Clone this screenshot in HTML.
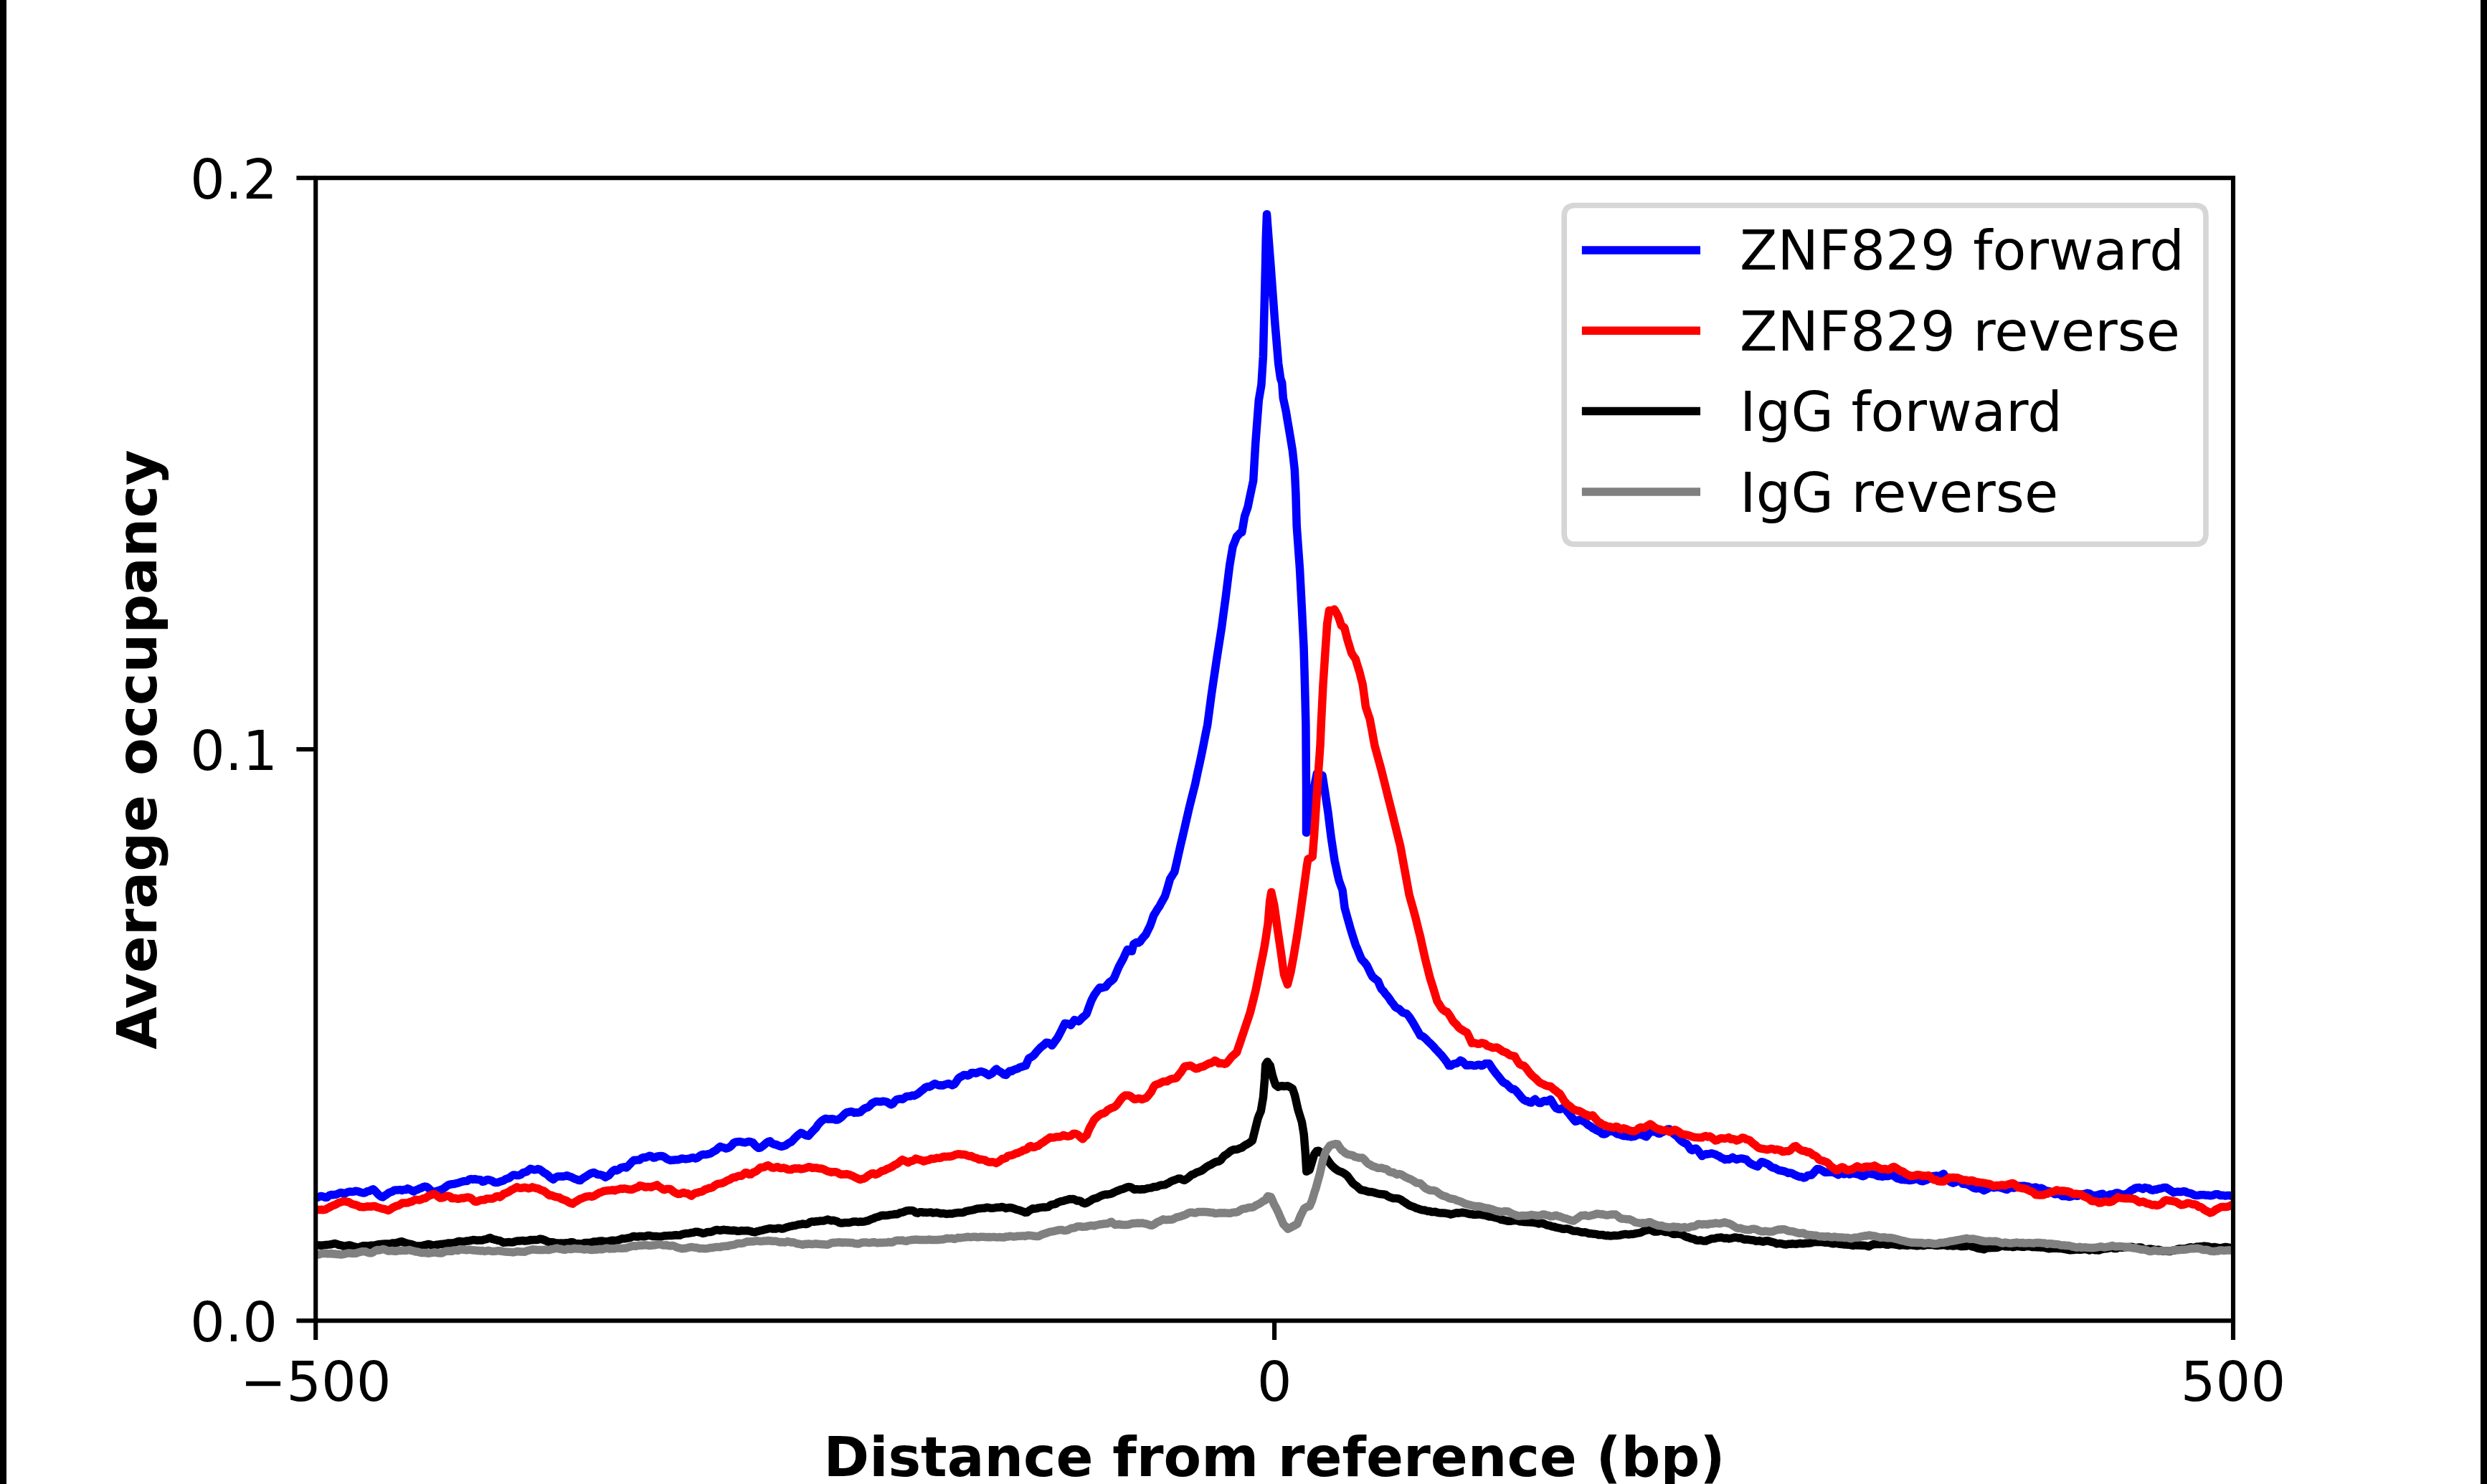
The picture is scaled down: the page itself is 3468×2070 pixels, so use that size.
<!DOCTYPE html>
<html><head><meta charset="utf-8"><title>Average occupancy</title>
<style>
html,body{margin:0;padding:0;background:#fff;}
body{width:3468px;height:2070px;overflow:hidden;}
svg{display:block;}
text{font-family:"DejaVu Sans","Liberation Sans",sans-serif;font-size:76.7px;fill:#000;}
.b{font-weight:bold;}
</style></head><body>
<svg width="3468" height="2070" viewBox="0 0 3468 2070">
<rect x="0" y="0" width="3468" height="2070" fill="#fff"/>
<rect x="0" y="0" width="9" height="2070" fill="#000"/>
<rect x="3459" y="0" width="9" height="2070" fill="#000"/>
<defs><clipPath id="ax"><rect x="440.2" y="248.2" width="2673.8" height="1594"/></clipPath></defs>
<g clip-path="url(#ax)" fill="none" stroke-width="11.5" stroke-linejoin="round" stroke-linecap="square">
<path stroke="#0000ff" d="M440.2 1669.8 L442.9 1670.3 L445.5 1669.1 L448.2 1668.4 L450.9 1669.3 L453.6 1670.2 L456.2 1670.2 L458.9 1667.6 L461.6 1666.5 L464.3 1666.8 L466.9 1666.4 L469.6 1666.0 L472.3 1664.6 L475.0 1663.6 L477.6 1664.0 L480.3 1665.3 L483.0 1663.8 L485.7 1662.6 L488.3 1662.1 L491.0 1662.4 L493.7 1662.1 L496.3 1661.3 L499.0 1661.8 L501.7 1662.7 L504.4 1663.6 L507.0 1664.1 L509.7 1663.4 L512.4 1661.7 L515.1 1661.4 L517.7 1659.8 L520.4 1658.7 L523.1 1661.2 L525.8 1664.3 L528.4 1667.0 L531.1 1669.0 L533.8 1669.9 L536.5 1667.7 L539.1 1666.2 L541.8 1664.1 L544.5 1662.9 L547.2 1662.0 L549.8 1660.2 L552.5 1660.0 L555.2 1659.9 L557.8 1659.6 L560.5 1660.4 L563.2 1659.6 L565.9 1659.6 L568.5 1657.9 L571.2 1659.1 L573.9 1660.5 L576.6 1662.0 L579.2 1660.4 L581.9 1659.5 L584.6 1658.1 L587.3 1657.3 L589.9 1655.8 L592.6 1655.1 L595.3 1655.6 L598.0 1657.8 L600.6 1660.4 L603.3 1663.1 L606.0 1662.2 L608.6 1661.5 L611.3 1660.8 L614.0 1659.8 L616.7 1658.9 L619.3 1657.2 L622.0 1655.1 L624.7 1653.2 L627.4 1652.2 L630.0 1651.8 L632.7 1651.6 L635.4 1650.9 L638.1 1650.2 L640.7 1649.4 L643.4 1648.6 L646.1 1647.7 L648.8 1647.6 L651.4 1647.3 L654.1 1645.3 L656.8 1644.5 L659.5 1645.2 L662.1 1644.6 L664.8 1645.3 L667.5 1645.6 L670.1 1645.7 L672.8 1648.3 L675.5 1647.8 L678.2 1645.9 L680.8 1645.4 L683.5 1646.2 L686.2 1647.1 L688.9 1649.0 L691.5 1649.5 L694.2 1649.4 L696.9 1648.4 L699.6 1647.5 L702.2 1646.8 L704.9 1644.7 L707.6 1644.0 L710.3 1643.0 L712.9 1640.8 L715.6 1639.0 L718.3 1639.0 L720.9 1639.6 L723.6 1639.4 L726.3 1638.4 L729.0 1636.0 L731.6 1635.1 L734.3 1634.5 L737.0 1632.3 L739.7 1630.2 L742.3 1631.0 L745.0 1631.7 L747.7 1631.4 L750.4 1630.6 L753.0 1631.5 L755.7 1633.4 L758.4 1635.7 L761.1 1637.1 L763.7 1638.9 L766.4 1641.6 L769.1 1643.7 L771.8 1645.2 L774.4 1642.7 L777.1 1641.3 L779.8 1641.1 L782.4 1641.0 L785.1 1641.0 L787.8 1640.6 L790.5 1639.8 L793.1 1640.7 L795.8 1641.6 L798.5 1642.8 L801.2 1644.2 L803.8 1645.0 L806.5 1646.2 L809.2 1646.5 L811.9 1644.2 L814.5 1642.5 L817.2 1641.0 L819.9 1639.1 L822.6 1637.5 L825.2 1636.2 L827.9 1635.4 L830.6 1636.8 L833.2 1638.3 L835.9 1638.4 L838.6 1639.0 L841.3 1640.0 L843.9 1642.2 L846.6 1640.9 L849.3 1639.3 L852.0 1636.1 L854.6 1633.4 L857.3 1631.8 L860.0 1632.7 L862.7 1631.3 L865.3 1629.1 L868.0 1628.4 L870.7 1627.8 L873.4 1628.8 L876.0 1626.4 L878.7 1623.5 L881.4 1620.5 L884.1 1618.3 L886.7 1618.4 L889.4 1617.9 L892.1 1617.9 L894.7 1615.4 L897.4 1614.5 L900.1 1614.7 L902.8 1613.6 L905.4 1612.3 L908.1 1612.7 L910.8 1614.9 L913.5 1614.8 L916.1 1613.2 L918.8 1612.8 L921.5 1612.5 L924.2 1612.7 L926.8 1614.1 L929.5 1616.2 L932.2 1617.4 L934.9 1618.6 L937.5 1618.3 L940.2 1618.1 L942.9 1617.7 L945.5 1617.8 L948.2 1617.0 L950.9 1615.9 L953.6 1616.4 L956.2 1616.8 L958.9 1616.4 L961.6 1616.1 L964.3 1614.9 L966.9 1614.8 L969.6 1615.9 L972.3 1615.2 L975.0 1613.1 L977.6 1611.3 L980.3 1610.2 L983.0 1610.5 L985.7 1610.2 L988.3 1609.6 L991.0 1609.0 L993.7 1607.0 L996.4 1605.5 L999.0 1604.1 L1001.7 1601.3 L1004.4 1599.2 L1007.0 1600.4 L1009.7 1600.9 L1012.4 1602.1 L1015.1 1601.2 L1017.7 1600.0 L1020.4 1597.6 L1023.1 1594.2 L1025.8 1593.0 L1028.4 1592.7 L1031.1 1592.4 L1033.8 1592.9 L1036.5 1593.5 L1039.1 1593.7 L1041.8 1592.9 L1044.5 1592.2 L1047.2 1592.9 L1049.8 1593.7 L1052.5 1597.1 L1055.2 1599.7 L1057.8 1601.3 L1060.5 1600.8 L1063.2 1598.9 L1065.9 1596.7 L1068.5 1594.4 L1071.2 1592.6 L1073.9 1591.9 L1076.6 1594.8 L1079.2 1596.0 L1081.9 1596.5 L1084.6 1597.5 L1087.3 1598.7 L1089.9 1599.3 L1092.6 1598.6 L1095.3 1597.8 L1098.0 1595.7 L1100.6 1594.0 L1103.3 1592.9 L1106.0 1590.2 L1108.7 1587.2 L1111.3 1584.6 L1114.0 1582.3 L1116.7 1580.3 L1119.3 1581.1 L1122.0 1582.7 L1124.7 1583.9 L1127.4 1584.4 L1130.0 1581.5 L1132.7 1578.5 L1135.4 1575.8 L1138.1 1573.0 L1140.7 1568.8 L1143.4 1565.8 L1146.1 1563.3 L1148.8 1561.5 L1151.4 1560.3 L1154.1 1561.1 L1156.8 1560.9 L1159.5 1560.7 L1162.1 1560.9 L1164.8 1561.9 L1167.5 1562.1 L1170.1 1560.8 L1172.8 1558.9 L1175.5 1556.2 L1178.2 1553.5 L1180.8 1551.7 L1183.5 1551.3 L1186.2 1550.5 L1188.9 1551.0 L1191.5 1552.2 L1194.2 1551.7 L1196.9 1551.9 L1199.6 1551.4 L1202.2 1548.8 L1204.9 1546.5 L1207.6 1545.3 L1210.3 1544.6 L1212.9 1542.5 L1215.6 1539.4 L1218.3 1537.9 L1220.9 1536.6 L1223.6 1536.5 L1226.3 1536.7 L1229.0 1536.7 L1231.6 1536.1 L1234.3 1536.4 L1237.0 1537.2 L1239.7 1539.1 L1242.3 1540.8 L1245.0 1539.7 L1247.7 1536.2 L1250.4 1533.8 L1253.0 1533.1 L1255.7 1532.8 L1258.4 1533.3 L1261.1 1531.6 L1263.7 1529.5 L1266.4 1529.2 L1269.1 1529.1 L1271.8 1528.0 L1274.4 1528.4 L1277.1 1527.2 L1279.8 1525.7 L1282.4 1523.6 L1285.1 1521.3 L1287.8 1519.3 L1290.5 1516.8 L1293.1 1515.8 L1295.8 1516.0 L1298.5 1514.7 L1301.2 1512.8 L1303.8 1511.5 L1306.5 1512.9 L1309.2 1513.9 L1311.9 1513.8 L1314.5 1514.1 L1317.2 1513.0 L1319.9 1512.3 L1322.6 1511.4 L1325.2 1512.5 L1327.9 1513.7 L1330.6 1512.5 L1333.2 1509.3 L1335.9 1505.0 L1338.6 1502.4 L1341.3 1501.2 L1343.9 1499.4 L1346.6 1499.4 L1349.3 1500.3 L1352.0 1499.3 L1354.6 1496.5 L1357.3 1496.4 L1360.0 1497.0 L1362.7 1496.5 L1365.3 1495.1 L1368.0 1494.6 L1370.7 1495.3 L1373.4 1496.4 L1376.0 1498.1 L1378.7 1499.7 L1381.4 1498.4 L1384.1 1496.6 L1386.7 1493.4 L1389.4 1490.9 L1392.1 1493.7 L1394.7 1494.9 L1397.4 1496.8 L1400.1 1498.9 L1402.8 1499.5 L1405.4 1496.3 L1408.1 1493.9 L1410.8 1494.3 L1413.5 1492.4 L1416.1 1491.6 L1418.8 1490.8 L1421.5 1489.1 L1424.2 1488.3 L1426.8 1487.3 L1430.5 1486.5 L1432.2 1481.8 L1434.6 1476.4 L1437.5 1474.8 L1440.2 1473.1 L1442.9 1470.5 L1445.5 1467.1 L1448.2 1464.2 L1450.9 1461.3 L1453.6 1459.1 L1456.2 1457.1 L1458.9 1454.3 L1461.6 1454.4 L1464.3 1456.1 L1466.9 1458.3 L1469.6 1454.7 L1472.3 1450.9 L1475.0 1447.1 L1476.4 1444.5 L1480.3 1436.8 L1483.0 1431.4 L1484.9 1427.5 L1488.3 1427.9 L1491.0 1428.8 L1493.4 1429.9 L1496.4 1425.3 L1498.2 1422.6 L1501.7 1423.9 L1504.4 1424.6 L1507.0 1421.9 L1509.7 1419.1 L1512.4 1417.0 L1515.2 1414.2 L1517.7 1407.0 L1521.3 1397.2 L1523.1 1393.2 L1526.1 1387.5 L1528.4 1384.3 L1531.1 1380.5 L1533.8 1377.4 L1536.5 1377.9 L1539.1 1377.2 L1541.8 1376.7 L1544.5 1373.0 L1547.2 1369.9 L1549.8 1368.3 L1552.8 1365.6 L1555.2 1360.3 L1557.8 1354.1 L1560.1 1348.7 L1563.2 1342.8 L1566.1 1337.7 L1568.5 1332.2 L1572.2 1324.4 L1573.9 1325.6 L1576.6 1326.8 L1578.3 1326.8 L1580.7 1317.1 L1584.6 1314.4 L1587.3 1315.1 L1589.9 1313.4 L1592.6 1309.5 L1595.3 1306.3 L1597.7 1303.8 L1600.6 1297.7 L1603.7 1291.6 L1606.0 1285.1 L1608.6 1277.1 L1611.3 1272.7 L1614.0 1268.1 L1617.1 1263.7 L1619.3 1259.3 L1622.0 1254.6 L1624.4 1250.4 L1627.4 1240.7 L1630.0 1231.7 L1631.6 1226.1 L1635.4 1219.9 L1637.7 1216.4 L1640.7 1203.6 L1643.8 1189.8 L1646.1 1179.5 L1648.8 1168.1 L1651.1 1158.2 L1654.1 1145.1 L1656.8 1133.3 L1658.3 1126.7 L1662.1 1111.5 L1664.8 1100.9 L1666.7 1093.4 L1670.1 1077.0 L1672.8 1064.9 L1675.2 1053.8 L1678.2 1038.9 L1680.8 1025.4 L1683.7 1011.3 L1686.2 992.6 L1689.3 968.9 L1691.5 954.0 L1694.2 935.9 L1696.4 920.8 L1699.6 900.4 L1703.5 875.5 L1704.9 864.7 L1707.6 844.7 L1709.2 833.0 L1712.9 802.8 L1714.8 787.7 L1719.1 762.3 L1721.0 757.7 L1724.7 748.1 L1726.3 746.9 L1729.0 743.8 L1731.8 742.5 L1735.6 720.2 L1737.0 716.2 L1740.1 706.9 L1742.3 695.9 L1745.0 683.1 L1747.7 670.5 L1750.7 618.9 L1753.0 588.2 L1755.3 558.2 L1758.9 537.0 L1761.4 497.5 L1762.9 436.9 L1764.4 376.2 L1765.3 330.7 L1766.5 298.8 L1768.9 330.7 L1771.8 368.1 L1773.5 391.4 L1778.0 452.0 L1779.8 472.9 L1782.6 506.6 L1785.6 527.9 L1787.7 533.9 L1789.3 555.2 L1793.2 573.4 L1795.8 589.2 L1797.8 600.7 L1802.3 628.0 L1803.8 641.6 L1805.3 655.3 L1806.9 688.7 L1808.2 734.0 L1812.5 793.4 L1815.3 847.2 L1818.1 903.8 L1819.5 954.7 L1820.9 1011.3 L1821.5 1102.0 L1821.5 1161.5 L1825.2 1138.4 L1828.6 1117.5 L1830.6 1107.7 L1833.2 1094.4 L1836.4 1078.7 L1838.6 1079.3 L1841.3 1080.5 L1844.1 1081.8 L1847.2 1102.0 L1849.3 1116.0 L1851.9 1133.0 L1854.6 1155.2 L1856.5 1170.2 L1861.2 1201.2 L1862.7 1207.8 L1865.3 1220.3 L1867.4 1229.0 L1872.0 1241.4 L1875.1 1266.2 L1878.7 1279.4 L1881.4 1288.8 L1882.8 1294.1 L1886.7 1306.7 L1890.6 1318.9 L1892.1 1322.0 L1894.7 1328.6 L1898.3 1337.5 L1900.1 1339.7 L1902.8 1342.4 L1906.1 1346.8 L1908.1 1350.8 L1910.8 1356.7 L1913.8 1362.3 L1916.1 1364.2 L1918.8 1366.4 L1921.6 1368.5 L1924.2 1375.0 L1926.2 1379.4 L1929.5 1382.8 L1932.2 1386.7 L1934.9 1389.6 L1937.5 1393.1 L1940.2 1397.4 L1942.9 1400.6 L1945.5 1404.4 L1948.2 1406.2 L1950.9 1407.3 L1953.6 1410.1 L1956.2 1412.4 L1958.9 1413.3 L1961.6 1414.1 L1965.0 1418.1 L1966.9 1420.9 L1969.6 1425.3 L1972.7 1430.5 L1975.0 1434.6 L1977.6 1439.1 L1980.5 1444.4 L1983.0 1445.2 L1985.7 1446.9 L1988.3 1449.2 L1991.0 1452.1 L1993.7 1454.6 L1996.4 1457.3 L1999.0 1459.8 L2001.7 1463.2 L2004.4 1465.8 L2007.0 1468.8 L2009.7 1471.5 L2012.4 1474.7 L2015.1 1478.2 L2017.7 1481.7 L2020.4 1486.5 L2023.1 1486.4 L2025.8 1484.6 L2028.4 1483.6 L2031.1 1483.3 L2033.8 1481.8 L2036.5 1479.1 L2039.1 1480.4 L2041.8 1483.1 L2044.5 1486.1 L2047.2 1486.0 L2049.8 1485.5 L2052.5 1485.7 L2055.2 1486.5 L2057.8 1486.3 L2060.5 1485.2 L2063.2 1485.2 L2065.9 1486.6 L2068.5 1485.6 L2071.2 1483.4 L2073.9 1483.4 L2076.6 1483.6 L2079.2 1487.6 L2081.9 1491.8 L2084.6 1495.4 L2087.3 1498.8 L2089.9 1501.9 L2092.6 1505.3 L2095.3 1508.8 L2098.0 1510.7 L2100.6 1511.8 L2103.3 1514.4 L2106.0 1517.3 L2108.7 1519.2 L2111.3 1519.3 L2114.0 1521.5 L2116.7 1524.7 L2119.3 1527.8 L2122.0 1531.2 L2124.7 1533.8 L2127.4 1535.5 L2130.0 1536.0 L2132.7 1537.6 L2135.4 1538.1 L2138.1 1535.1 L2140.7 1533.3 L2143.4 1536.3 L2146.1 1538.4 L2148.8 1538.5 L2151.4 1536.5 L2154.1 1535.5 L2156.8 1536.3 L2159.5 1534.9 L2162.1 1533.5 L2164.8 1538.0 L2167.5 1542.6 L2170.1 1545.8 L2172.8 1547.0 L2175.5 1547.3 L2178.2 1546.1 L2180.8 1544.9 L2183.5 1547.9 L2186.2 1551.4 L2188.9 1554.6 L2191.5 1558.1 L2194.2 1561.3 L2196.9 1564.3 L2199.6 1563.6 L2202.2 1562.1 L2204.9 1562.6 L2207.6 1563.9 L2210.3 1565.2 L2212.9 1567.8 L2215.6 1569.9 L2218.3 1571.2 L2221.0 1573.6 L2223.6 1574.9 L2226.3 1576.5 L2229.0 1577.7 L2231.6 1579.0 L2234.3 1581.6 L2237.0 1582.0 L2239.7 1581.0 L2242.3 1578.9 L2245.0 1578.0 L2247.7 1577.8 L2250.4 1578.5 L2253.0 1580.4 L2255.7 1582.0 L2258.4 1581.9 L2261.1 1583.4 L2263.7 1584.4 L2266.4 1584.2 L2269.1 1584.9 L2271.8 1584.9 L2274.4 1585.8 L2277.1 1585.4 L2279.8 1584.9 L2282.4 1583.3 L2285.1 1581.7 L2287.8 1582.8 L2290.5 1583.0 L2293.1 1584.6 L2295.8 1585.6 L2298.5 1582.1 L2301.2 1578.9 L2303.8 1578.1 L2306.5 1578.7 L2309.2 1579.0 L2311.9 1581.0 L2314.5 1581.2 L2317.2 1579.6 L2319.9 1578.4 L2322.6 1577.0 L2325.2 1575.3 L2327.9 1575.1 L2330.6 1578.6 L2333.3 1581.3 L2335.9 1583.3 L2338.6 1584.9 L2341.3 1588.4 L2343.9 1590.9 L2346.6 1593.0 L2349.3 1594.6 L2352.0 1595.5 L2354.6 1598.9 L2357.3 1603.2 L2360.0 1604.5 L2362.7 1602.3 L2365.3 1602.1 L2368.0 1605.1 L2370.7 1608.9 L2373.4 1612.5 L2376.0 1610.9 L2378.7 1609.7 L2381.4 1610.0 L2384.1 1609.4 L2386.7 1608.7 L2389.4 1609.5 L2392.1 1610.2 L2394.7 1611.7 L2397.4 1612.8 L2400.1 1614.8 L2402.8 1615.8 L2405.4 1617.7 L2408.1 1616.7 L2410.8 1617.3 L2413.5 1616.0 L2416.1 1614.4 L2418.8 1616.1 L2421.5 1617.4 L2424.2 1616.6 L2426.8 1616.0 L2429.5 1615.9 L2432.2 1616.8 L2434.9 1617.1 L2437.5 1620.0 L2440.2 1622.4 L2442.9 1623.9 L2445.6 1625.2 L2448.2 1626.2 L2450.9 1627.1 L2453.6 1623.7 L2456.2 1620.7 L2458.9 1621.1 L2461.6 1622.5 L2464.3 1623.4 L2466.9 1624.9 L2469.6 1627.5 L2472.3 1628.9 L2475.0 1629.3 L2477.6 1630.8 L2480.3 1632.3 L2483.0 1632.8 L2485.7 1633.2 L2488.3 1633.9 L2491.0 1634.9 L2493.7 1636.3 L2496.4 1636.1 L2499.0 1636.7 L2501.7 1638.2 L2504.4 1639.5 L2507.0 1640.6 L2509.7 1641.5 L2512.4 1641.6 L2515.1 1643.0 L2517.7 1642.4 L2520.4 1639.9 L2523.1 1639.2 L2525.8 1639.1 L2528.4 1636.8 L2531.1 1633.6 L2533.8 1630.6 L2536.5 1630.7 L2539.1 1631.7 L2541.8 1633.2 L2544.5 1635.2 L2547.2 1635.3 L2549.8 1635.0 L2552.5 1634.7 L2555.2 1635.0 L2557.8 1635.8 L2560.5 1636.9 L2563.2 1638.7 L2565.9 1637.1 L2568.5 1636.6 L2571.2 1637.8 L2573.9 1637.2 L2576.6 1636.7 L2579.2 1638.0 L2581.9 1637.2 L2584.6 1636.4 L2587.3 1637.4 L2589.9 1637.8 L2592.6 1638.4 L2595.3 1639.9 L2598.0 1640.7 L2600.6 1639.7 L2603.3 1637.4 L2606.0 1636.4 L2608.7 1637.4 L2611.3 1637.9 L2614.0 1638.2 L2616.7 1639.5 L2619.3 1640.6 L2622.0 1640.7 L2624.7 1641.2 L2627.4 1639.9 L2630.0 1640.6 L2632.7 1640.6 L2635.4 1639.8 L2638.1 1639.1 L2640.7 1640.0 L2643.4 1642.1 L2646.1 1643.9 L2648.8 1644.4 L2651.4 1645.5 L2654.1 1645.4 L2656.8 1645.8 L2659.5 1645.8 L2662.1 1646.4 L2664.8 1646.2 L2667.5 1645.9 L2670.1 1645.0 L2672.8 1644.3 L2675.5 1645.5 L2678.2 1647.1 L2680.8 1647.7 L2683.5 1646.9 L2686.2 1646.0 L2688.9 1644.8 L2691.5 1642.8 L2694.2 1640.7 L2696.9 1640.6 L2699.6 1640.0 L2702.2 1640.5 L2704.9 1640.4 L2707.6 1638.9 L2710.3 1637.3 L2712.9 1641.8 L2715.6 1645.1 L2718.3 1647.4 L2721.0 1649.2 L2723.6 1650.2 L2726.3 1649.2 L2729.0 1648.0 L2731.6 1647.2 L2734.3 1648.0 L2737.0 1651.2 L2739.7 1651.4 L2742.3 1651.8 L2745.0 1652.8 L2747.7 1654.3 L2750.4 1656.0 L2753.0 1657.4 L2755.7 1657.9 L2758.4 1657.3 L2761.1 1658.0 L2763.7 1658.7 L2766.4 1660.6 L2769.1 1659.3 L2771.8 1658.0 L2774.4 1656.1 L2777.1 1655.5 L2779.8 1656.7 L2782.4 1656.3 L2785.1 1656.1 L2787.8 1656.1 L2790.5 1657.0 L2793.1 1657.7 L2795.8 1658.7 L2798.5 1659.3 L2801.2 1657.6 L2803.8 1656.4 L2806.5 1656.9 L2809.2 1656.9 L2811.9 1655.8 L2814.5 1654.3 L2817.2 1654.5 L2819.9 1654.3 L2822.6 1654.2 L2825.2 1654.7 L2827.9 1655.0 L2830.6 1656.1 L2833.3 1657.1 L2835.9 1656.5 L2838.6 1656.1 L2841.3 1657.3 L2843.9 1657.6 L2846.6 1657.3 L2849.3 1658.7 L2852.0 1660.6 L2854.6 1661.2 L2857.3 1661.7 L2860.0 1662.1 L2862.7 1664.4 L2865.3 1665.8 L2868.0 1665.4 L2870.7 1665.4 L2873.4 1666.5 L2876.0 1668.6 L2878.7 1668.5 L2881.4 1668.1 L2884.1 1669.3 L2886.7 1669.4 L2889.4 1668.5 L2892.1 1667.1 L2894.7 1668.0 L2897.4 1668.2 L2900.1 1666.3 L2902.8 1666.1 L2905.4 1665.6 L2908.1 1665.1 L2910.8 1664.3 L2913.5 1664.8 L2916.1 1666.6 L2918.8 1667.4 L2921.5 1667.6 L2924.2 1667.3 L2926.8 1666.2 L2929.5 1665.5 L2932.2 1665.3 L2934.9 1667.6 L2937.5 1669.0 L2940.2 1666.9 L2942.9 1666.0 L2945.6 1666.2 L2948.2 1665.3 L2950.9 1663.9 L2953.6 1664.0 L2956.2 1665.0 L2958.9 1666.7 L2961.6 1666.1 L2964.3 1666.1 L2966.9 1664.6 L2969.6 1662.4 L2972.3 1660.1 L2975.0 1659.1 L2977.6 1657.1 L2980.3 1656.7 L2983.0 1656.6 L2985.7 1657.4 L2988.3 1658.5 L2991.0 1656.5 L2993.7 1657.1 L2996.4 1657.6 L2999.0 1659.5 L3001.7 1660.3 L3004.4 1659.2 L3007.0 1659.4 L3009.7 1658.3 L3012.4 1658.0 L3015.1 1657.3 L3017.7 1656.4 L3020.4 1656.4 L3023.1 1658.1 L3025.8 1659.9 L3028.4 1661.6 L3031.1 1663.4 L3033.8 1662.6 L3036.5 1662.2 L3039.1 1662.5 L3041.8 1662.5 L3044.5 1661.7 L3047.2 1661.9 L3049.8 1663.5 L3052.5 1664.1 L3055.2 1664.7 L3057.9 1666.0 L3060.5 1667.2 L3063.2 1667.4 L3065.9 1667.3 L3068.5 1666.7 L3071.2 1666.7 L3073.9 1666.8 L3076.6 1667.3 L3079.2 1667.3 L3081.9 1667.7 L3084.6 1667.5 L3087.3 1666.7 L3089.9 1665.7 L3092.6 1665.8 L3095.3 1667.4 L3098.0 1667.3 L3100.6 1667.5 L3103.3 1668.1 L3106.0 1667.5 L3108.7 1667.6 L3111.3 1668.1 L3114.0 1666.7"/>
<path stroke="#ff0000" d="M440.2 1687.5 L442.9 1687.5 L445.5 1687.6 L448.2 1687.3 L450.9 1687.7 L453.6 1687.2 L456.2 1685.7 L458.9 1684.4 L461.6 1682.9 L464.3 1681.5 L466.9 1680.7 L469.6 1679.3 L472.3 1677.7 L475.0 1677.0 L477.6 1676.0 L480.3 1675.5 L483.0 1676.3 L485.7 1676.5 L488.3 1678.0 L491.0 1679.5 L493.7 1680.2 L496.3 1680.8 L499.0 1681.7 L501.7 1683.4 L504.4 1683.6 L507.0 1683.8 L509.7 1683.4 L512.4 1682.8 L515.1 1682.9 L517.7 1683.0 L520.4 1682.5 L523.1 1682.5 L525.8 1683.9 L528.4 1684.5 L531.1 1685.4 L533.8 1686.2 L536.5 1686.7 L539.1 1687.7 L541.8 1688.4 L544.5 1686.8 L547.2 1684.7 L549.8 1683.5 L552.5 1682.2 L555.2 1681.7 L557.8 1680.3 L560.5 1678.3 L563.2 1677.9 L565.9 1677.9 L568.5 1677.8 L571.2 1676.7 L573.9 1676.2 L576.6 1674.7 L579.2 1673.4 L581.9 1673.6 L584.6 1673.9 L587.3 1673.1 L589.9 1671.8 L592.6 1671.6 L595.3 1669.9 L598.0 1667.9 L600.6 1667.2 L603.3 1665.8 L606.0 1665.6 L608.6 1667.0 L611.3 1669.4 L614.0 1671.1 L616.7 1670.7 L619.3 1669.9 L622.0 1668.4 L624.7 1668.1 L627.4 1669.0 L630.0 1671.5 L632.7 1671.3 L635.4 1671.5 L638.1 1672.3 L640.7 1672.1 L643.4 1671.1 L646.1 1671.4 L648.8 1670.6 L651.4 1670.1 L654.1 1670.2 L656.8 1671.3 L659.5 1673.7 L662.1 1676.0 L664.8 1676.2 L667.5 1675.2 L670.1 1673.9 L672.8 1673.7 L675.5 1673.8 L678.2 1672.2 L680.8 1671.9 L683.5 1672.0 L686.2 1672.0 L688.9 1671.0 L691.5 1669.2 L694.2 1668.6 L696.9 1669.9 L699.6 1668.2 L702.2 1665.3 L704.9 1664.5 L707.6 1663.4 L710.3 1662.0 L712.9 1659.9 L715.6 1658.7 L718.3 1657.2 L720.9 1655.8 L723.6 1657.0 L726.3 1657.3 L729.0 1656.9 L731.6 1656.2 L734.3 1656.9 L737.0 1657.8 L739.7 1657.1 L742.3 1655.8 L745.0 1656.8 L747.7 1657.5 L750.4 1657.9 L753.0 1659.3 L755.7 1660.4 L758.4 1661.3 L761.1 1663.2 L763.7 1665.6 L766.4 1667.4 L769.1 1667.2 L771.8 1668.4 L774.4 1669.4 L777.1 1669.9 L779.8 1670.2 L782.4 1672.1 L785.1 1673.1 L787.8 1674.1 L790.5 1675.2 L793.1 1677.0 L795.8 1678.3 L798.5 1679.1 L801.2 1677.0 L803.8 1675.6 L806.5 1673.9 L809.2 1672.2 L811.9 1671.4 L814.5 1670.2 L817.2 1669.3 L819.9 1668.9 L822.6 1668.5 L825.2 1669.2 L827.9 1668.5 L830.6 1666.8 L833.2 1665.4 L835.9 1663.7 L838.6 1663.0 L841.3 1661.6 L843.9 1661.1 L846.6 1660.8 L849.3 1660.6 L852.0 1660.4 L854.6 1659.7 L857.3 1660.8 L860.0 1659.6 L862.7 1659.0 L865.3 1658.0 L868.0 1658.4 L870.7 1657.8 L873.4 1658.3 L876.0 1658.8 L878.7 1659.3 L881.4 1659.3 L884.1 1658.1 L886.7 1656.8 L889.4 1656.2 L892.1 1653.8 L894.7 1654.1 L897.4 1655.0 L900.1 1656.0 L902.8 1655.5 L905.4 1655.6 L908.1 1656.0 L910.8 1654.7 L913.5 1653.9 L916.1 1652.9 L918.8 1655.2 L921.5 1656.7 L924.2 1658.9 L926.8 1659.6 L929.5 1658.4 L932.2 1658.4 L934.9 1658.7 L937.5 1660.9 L940.2 1663.0 L942.9 1664.4 L945.5 1665.6 L948.2 1665.3 L950.9 1664.2 L953.6 1663.6 L956.2 1664.6 L958.9 1664.7 L961.6 1666.8 L964.3 1668.1 L966.9 1665.7 L969.6 1664.1 L972.3 1663.8 L975.0 1662.7 L977.6 1662.4 L980.3 1661.4 L983.0 1659.2 L985.7 1658.7 L988.3 1657.3 L991.0 1657.2 L993.7 1656.2 L996.4 1653.9 L999.0 1652.2 L1001.7 1651.2 L1004.4 1650.9 L1007.0 1650.3 L1009.7 1649.2 L1012.4 1647.6 L1015.1 1646.3 L1017.7 1645.4 L1020.4 1643.5 L1023.1 1642.2 L1025.8 1642.2 L1028.4 1640.8 L1031.1 1640.2 L1033.8 1640.3 L1036.5 1638.4 L1039.1 1635.8 L1041.8 1636.0 L1044.5 1638.1 L1047.2 1638.1 L1049.8 1635.7 L1052.5 1634.7 L1055.2 1633.2 L1057.8 1630.9 L1060.5 1628.4 L1063.2 1628.5 L1065.9 1627.9 L1068.5 1626.3 L1071.2 1625.6 L1073.9 1627.2 L1076.6 1628.7 L1079.2 1629.0 L1081.9 1628.2 L1084.6 1627.7 L1087.3 1629.2 L1089.9 1629.5 L1092.6 1628.9 L1095.3 1629.7 L1098.0 1631.0 L1100.6 1631.5 L1103.3 1631.6 L1106.0 1630.2 L1108.7 1629.8 L1111.3 1630.0 L1114.0 1629.6 L1116.7 1630.8 L1119.3 1630.3 L1122.0 1629.8 L1124.7 1629.0 L1127.4 1627.8 L1130.0 1628.0 L1132.7 1629.3 L1135.4 1629.1 L1138.1 1628.9 L1140.7 1629.6 L1143.4 1630.1 L1146.1 1630.1 L1148.8 1631.1 L1151.4 1632.6 L1154.1 1633.8 L1156.8 1634.3 L1159.5 1635.2 L1162.1 1634.7 L1164.8 1634.7 L1167.5 1635.3 L1170.1 1637.1 L1172.8 1638.2 L1175.5 1638.0 L1178.2 1637.9 L1180.8 1637.7 L1183.5 1638.3 L1186.2 1639.2 L1188.9 1640.3 L1191.5 1641.7 L1194.2 1642.9 L1196.9 1644.3 L1199.6 1645.4 L1202.2 1644.4 L1204.9 1644.0 L1207.6 1642.3 L1210.3 1640.1 L1212.9 1638.6 L1215.6 1637.0 L1218.3 1636.7 L1220.9 1638.3 L1223.6 1637.4 L1226.3 1635.8 L1229.0 1633.7 L1231.6 1633.1 L1234.3 1632.1 L1237.0 1630.5 L1239.7 1629.6 L1242.3 1628.4 L1245.0 1626.9 L1247.7 1624.8 L1250.4 1623.8 L1253.0 1622.0 L1255.7 1619.5 L1258.4 1617.6 L1261.1 1618.9 L1263.7 1620.3 L1266.4 1621.7 L1269.1 1619.9 L1271.8 1619.4 L1274.4 1618.2 L1277.1 1616.1 L1279.8 1617.0 L1282.4 1617.8 L1285.1 1618.4 L1287.8 1619.9 L1290.5 1619.1 L1293.1 1618.4 L1295.8 1617.9 L1298.5 1616.2 L1301.2 1616.5 L1303.8 1616.1 L1306.5 1615.1 L1309.2 1615.4 L1311.9 1615.0 L1314.5 1613.7 L1317.2 1613.2 L1319.9 1613.4 L1322.6 1613.1 L1325.2 1613.2 L1327.9 1612.6 L1330.6 1611.4 L1333.2 1610.4 L1335.9 1609.8 L1338.6 1609.9 L1341.3 1610.6 L1343.9 1610.2 L1346.6 1610.9 L1349.3 1612.0 L1352.0 1612.7 L1354.6 1612.5 L1357.3 1614.2 L1360.0 1615.1 L1362.7 1615.8 L1365.3 1617.4 L1368.0 1617.2 L1370.7 1617.7 L1373.4 1618.1 L1376.0 1619.9 L1378.7 1620.9 L1381.4 1621.1 L1384.1 1620.8 L1386.7 1621.3 L1389.4 1622.5 L1392.1 1620.8 L1394.7 1619.0 L1397.4 1616.5 L1400.1 1616.2 L1402.8 1615.1 L1405.4 1612.5 L1408.1 1611.8 L1410.8 1611.5 L1413.5 1610.4 L1416.1 1608.9 L1418.8 1608.5 L1421.5 1607.2 L1424.2 1606.2 L1426.8 1604.4 L1429.5 1604.0 L1432.2 1602.8 L1434.9 1599.4 L1437.5 1598.6 L1440.2 1600.3 L1442.9 1600.0 L1445.5 1598.8 L1448.2 1598.1 L1450.9 1595.6 L1453.6 1594.0 L1456.2 1592.4 L1458.9 1590.2 L1461.6 1588.6 L1464.3 1586.4 L1466.9 1586.9 L1469.6 1586.8 L1472.3 1585.9 L1475.0 1585.7 L1477.6 1585.8 L1480.3 1584.9 L1483.0 1583.4 L1485.7 1584.4 L1488.3 1585.0 L1491.0 1584.7 L1493.7 1583.9 L1496.4 1581.5 L1499.0 1581.2 L1501.7 1582.1 L1504.4 1583.8 L1507.0 1586.7 L1509.7 1588.8 L1512.4 1585.8 L1515.4 1583.5 L1517.7 1577.5 L1519.5 1573.4 L1523.1 1567.0 L1525.5 1562.3 L1528.4 1559.4 L1531.1 1556.8 L1533.8 1554.8 L1536.5 1553.4 L1539.1 1553.0 L1541.8 1551.3 L1544.5 1548.4 L1547.2 1547.0 L1549.8 1545.5 L1552.5 1544.8 L1555.2 1543.2 L1557.8 1540.6 L1560.5 1536.9 L1563.2 1533.1 L1565.9 1530.2 L1568.5 1528.1 L1571.2 1527.9 L1573.9 1527.9 L1576.6 1529.2 L1579.2 1531.4 L1581.9 1533.4 L1584.6 1533.0 L1587.3 1532.1 L1589.9 1532.5 L1592.6 1533.6 L1595.3 1532.4 L1598.0 1531.6 L1600.6 1529.1 L1603.3 1525.6 L1605.4 1522.9 L1608.7 1516.1 L1610.4 1513.8 L1614.0 1512.2 L1616.7 1511.4 L1619.3 1510.0 L1622.0 1508.8 L1624.7 1508.4 L1627.4 1508.4 L1630.0 1506.6 L1632.7 1505.3 L1635.4 1504.6 L1638.1 1504.3 L1640.7 1503.3 L1643.4 1499.7 L1646.8 1495.6 L1648.8 1492.5 L1651.9 1487.5 L1654.1 1487.0 L1656.8 1486.9 L1659.5 1486.2 L1662.1 1487.5 L1664.8 1489.2 L1667.5 1490.7 L1670.1 1490.4 L1672.8 1488.9 L1675.5 1488.1 L1678.2 1487.6 L1680.8 1486.0 L1683.5 1484.6 L1686.2 1483.2 L1688.9 1482.8 L1691.5 1481.4 L1694.2 1479.3 L1696.9 1480.8 L1699.6 1483.3 L1702.2 1483.0 L1704.9 1483.2 L1707.6 1484.2 L1710.3 1483.1 L1712.9 1480.1 L1715.6 1476.5 L1718.3 1473.3 L1721.0 1471.0 L1724.8 1467.7 L1726.3 1462.7 L1729.0 1455.0 L1731.6 1447.1 L1734.1 1439.8 L1737.0 1431.0 L1739.7 1423.2 L1743.4 1411.9 L1745.0 1405.3 L1747.7 1394.8 L1751.1 1380.9 L1753.0 1371.6 L1755.7 1358.2 L1757.3 1349.9 L1761.1 1331.3 L1763.5 1318.9 L1766.4 1299.9 L1768.2 1287.9 L1770.7 1256.9 L1772.8 1244.5 L1774.4 1251.9 L1776.9 1263.1 L1779.8 1283.9 L1781.2 1294.1 L1786.2 1328.2 L1787.8 1339.9 L1790.5 1359.2 L1793.1 1366.5 L1795.5 1373.2 L1799.8 1356.1 L1803.8 1334.4 L1806.5 1318.1 L1808.5 1306.5 L1813.1 1275.5 L1814.5 1265.1 L1817.8 1241.4 L1819.9 1225.9 L1822.4 1207.4 L1824.0 1198.1 L1827.9 1196.7 L1830.2 1195.0 L1832.6 1164.0 L1835.7 1117.5 L1838.8 1071.0 L1841.0 1040.0 L1842.2 1011.3 L1845.0 954.7 L1847.8 912.3 L1850.7 869.8 L1853.5 851.4 L1857.3 852.3 L1860.6 850.0 L1862.7 853.1 L1866.2 859.9 L1868.0 865.0 L1870.5 872.6 L1874.7 875.5 L1879.0 892.5 L1881.4 900.2 L1884.6 910.9 L1886.7 914.2 L1890.3 919.3 L1892.1 925.5 L1895.9 937.7 L1897.4 944.0 L1900.2 954.7 L1902.8 973.8 L1904.4 985.9 L1908.1 997.1 L1910.1 1002.8 L1913.5 1021.0 L1916.9 1040.0 L1918.8 1046.9 L1921.5 1056.8 L1924.2 1066.6 L1926.2 1074.1 L1929.5 1087.2 L1932.2 1097.8 L1935.5 1111.3 L1937.5 1119.2 L1940.2 1129.9 L1942.9 1140.6 L1944.8 1148.5 L1948.2 1162.2 L1950.9 1173.0 L1952.6 1179.5 L1956.2 1199.6 L1958.8 1213.6 L1961.6 1229.0 L1965.0 1247.6 L1966.9 1254.8 L1969.6 1264.3 L1972.7 1275.5 L1975.0 1284.4 L1977.6 1295.3 L1980.5 1306.5 L1983.0 1318.0 L1986.7 1334.4 L1988.3 1341.2 L1991.0 1351.9 L1994.4 1365.4 L1996.4 1371.4 L1999.0 1379.8 L2001.7 1388.7 L2004.1 1396.6 L2007.0 1401.0 L2009.7 1405.6 L2012.4 1408.6 L2015.1 1410.5 L2017.9 1411.5 L2020.4 1414.7 L2023.1 1419.0 L2025.9 1424.1 L2028.4 1426.7 L2031.1 1429.2 L2033.8 1432.9 L2036.5 1435.2 L2039.1 1436.6 L2041.8 1438.4 L2045.4 1440.1 L2047.2 1443.4 L2049.8 1449.2 L2052.3 1455.0 L2055.2 1454.5 L2057.8 1455.2 L2060.5 1456.2 L2063.2 1456.1 L2065.9 1454.8 L2068.5 1455.2 L2071.2 1456.2 L2073.9 1458.7 L2076.6 1459.6 L2079.2 1460.5 L2081.9 1461.6 L2084.6 1461.2 L2087.3 1461.1 L2089.9 1462.6 L2092.6 1464.4 L2095.3 1466.5 L2098.0 1467.3 L2100.6 1468.3 L2103.3 1470.4 L2106.0 1472.0 L2108.7 1472.6 L2112.3 1473.4 L2114.0 1476.7 L2116.7 1481.0 L2118.8 1484.2 L2122.0 1485.8 L2124.7 1486.3 L2127.4 1488.9 L2130.0 1492.4 L2132.7 1496.0 L2135.4 1499.1 L2138.1 1501.8 L2140.7 1503.8 L2143.4 1506.3 L2146.1 1509.2 L2148.8 1511.0 L2151.4 1512.0 L2154.1 1513.4 L2156.8 1514.6 L2159.5 1515.2 L2162.1 1515.2 L2164.8 1517.7 L2167.5 1520.1 L2170.1 1521.7 L2172.8 1524.5 L2174.9 1525.2 L2178.2 1530.6 L2181.3 1535.9 L2183.5 1538.1 L2186.2 1541.3 L2188.9 1542.8 L2191.5 1545.2 L2194.2 1547.4 L2196.9 1548.6 L2199.6 1549.3 L2202.2 1549.7 L2204.9 1551.0 L2207.6 1552.7 L2210.3 1554.4 L2212.9 1555.1 L2215.6 1556.9 L2218.3 1556.1 L2221.0 1555.7 L2223.6 1558.9 L2226.3 1562.0 L2229.0 1565.1 L2231.6 1566.2 L2234.3 1568.4 L2237.0 1569.3 L2239.7 1570.5 L2242.3 1571.5 L2245.0 1571.5 L2247.7 1572.6 L2250.4 1573.2 L2253.0 1571.5 L2255.7 1572.0 L2258.4 1574.5 L2261.1 1575.1 L2263.7 1573.7 L2266.4 1574.5 L2269.1 1575.5 L2271.8 1576.7 L2274.4 1577.4 L2277.1 1577.7 L2279.8 1577.7 L2282.4 1576.3 L2285.1 1573.7 L2287.8 1572.5 L2290.5 1572.9 L2293.1 1573.0 L2295.8 1571.4 L2298.5 1569.6 L2301.2 1568.0 L2303.8 1569.6 L2306.5 1572.0 L2309.2 1573.6 L2311.9 1574.9 L2314.5 1575.2 L2317.2 1576.5 L2319.9 1576.8 L2322.6 1576.5 L2325.2 1577.3 L2327.9 1578.8 L2330.6 1578.0 L2333.3 1576.6 L2335.9 1575.9 L2338.6 1577.4 L2341.3 1578.9 L2343.9 1581.1 L2346.6 1582.1 L2349.3 1582.4 L2352.0 1583.2 L2354.6 1583.7 L2357.3 1584.5 L2360.0 1585.7 L2362.7 1586.3 L2365.3 1586.6 L2368.0 1586.7 L2370.7 1586.8 L2373.4 1586.8 L2376.0 1585.2 L2378.7 1584.5 L2381.4 1585.9 L2384.1 1585.0 L2386.7 1586.5 L2389.4 1588.8 L2392.1 1590.9 L2394.7 1590.3 L2397.4 1588.6 L2400.1 1587.8 L2402.8 1588.0 L2405.4 1588.2 L2408.1 1587.7 L2410.8 1586.5 L2413.5 1589.0 L2416.1 1588.8 L2418.8 1589.1 L2421.5 1590.9 L2424.2 1590.1 L2426.8 1588.8 L2429.5 1586.9 L2432.2 1587.4 L2434.9 1589.1 L2437.5 1589.8 L2440.2 1590.7 L2442.9 1593.5 L2445.6 1595.7 L2448.2 1597.5 L2450.9 1600.2 L2453.6 1601.6 L2456.2 1602.2 L2458.9 1602.5 L2461.6 1603.1 L2464.3 1603.7 L2466.9 1603.1 L2469.6 1602.3 L2472.3 1602.6 L2475.0 1603.9 L2477.6 1603.3 L2480.3 1603.9 L2483.0 1604.6 L2485.7 1606.4 L2488.3 1606.2 L2491.0 1605.7 L2493.7 1605.8 L2496.4 1604.5 L2499.0 1601.8 L2501.7 1599.2 L2504.4 1598.5 L2507.0 1601.1 L2509.7 1603.2 L2512.4 1604.8 L2515.1 1605.3 L2517.7 1605.7 L2520.4 1607.3 L2523.1 1607.0 L2525.8 1608.9 L2528.4 1611.3 L2531.1 1612.0 L2533.8 1614.0 L2536.5 1617.5 L2539.1 1618.6 L2541.8 1619.1 L2544.5 1620.3 L2547.2 1621.0 L2549.8 1623.1 L2552.5 1626.4 L2555.2 1628.4 L2557.8 1630.1 L2560.5 1632.4 L2563.2 1632.0 L2565.9 1629.1 L2568.5 1627.9 L2571.2 1628.9 L2573.9 1631.3 L2576.6 1632.4 L2579.2 1631.6 L2581.9 1631.2 L2584.6 1630.1 L2587.3 1628.2 L2589.9 1626.7 L2592.6 1628.3 L2595.3 1628.8 L2598.0 1629.0 L2600.6 1627.4 L2603.3 1627.2 L2606.0 1627.8 L2608.7 1627.2 L2611.3 1627.0 L2614.0 1625.9 L2616.7 1627.5 L2619.3 1628.8 L2622.0 1630.2 L2624.7 1630.9 L2627.4 1630.5 L2630.0 1630.6 L2632.7 1631.5 L2635.4 1631.0 L2638.1 1628.6 L2640.7 1627.5 L2643.4 1628.8 L2646.1 1630.5 L2648.8 1632.6 L2651.4 1633.4 L2654.1 1634.6 L2656.8 1636.8 L2659.5 1638.3 L2662.1 1639.5 L2664.8 1640.5 L2667.5 1640.1 L2670.1 1639.9 L2672.8 1638.8 L2675.5 1638.7 L2678.2 1639.4 L2680.8 1640.1 L2683.5 1640.0 L2686.2 1640.2 L2688.9 1639.5 L2691.5 1641.3 L2694.2 1643.9 L2696.9 1645.7 L2699.6 1645.8 L2702.2 1647.6 L2704.9 1647.9 L2707.6 1648.1 L2710.3 1647.9 L2712.9 1646.1 L2715.6 1644.5 L2718.3 1642.6 L2721.0 1642.7 L2723.6 1642.5 L2726.3 1642.7 L2729.0 1642.7 L2731.6 1643.7 L2734.3 1644.6 L2737.0 1646.1 L2739.7 1645.9 L2742.3 1646.3 L2745.0 1647.6 L2747.7 1646.6 L2750.4 1646.6 L2753.0 1647.6 L2755.7 1648.9 L2758.4 1649.0 L2761.1 1649.4 L2763.7 1649.7 L2766.4 1650.1 L2769.1 1650.7 L2771.8 1651.3 L2774.4 1651.5 L2777.1 1652.9 L2779.8 1654.3 L2782.4 1653.8 L2785.1 1653.5 L2787.8 1653.7 L2790.5 1652.9 L2793.1 1653.1 L2795.8 1653.7 L2798.5 1652.5 L2801.2 1651.9 L2803.8 1651.1 L2806.5 1650.4 L2809.2 1651.9 L2811.9 1654.3 L2814.5 1656.6 L2817.2 1656.9 L2819.9 1657.6 L2822.6 1657.8 L2825.2 1658.4 L2827.9 1659.8 L2830.6 1661.3 L2833.3 1662.0 L2835.9 1663.6 L2838.6 1666.5 L2841.3 1666.8 L2843.9 1667.0 L2846.6 1667.0 L2849.3 1666.8 L2852.0 1665.7 L2854.6 1665.2 L2857.3 1663.9 L2860.0 1662.8 L2862.7 1662.6 L2865.3 1661.3 L2868.0 1659.9 L2870.7 1660.9 L2873.4 1661.2 L2876.0 1661.0 L2878.7 1661.3 L2881.4 1661.6 L2884.1 1662.0 L2886.7 1662.9 L2889.4 1664.7 L2892.1 1665.7 L2894.7 1665.1 L2897.4 1665.5 L2900.1 1665.7 L2902.8 1666.7 L2905.4 1668.6 L2908.1 1669.7 L2910.8 1670.8 L2913.5 1672.4 L2916.1 1675.0 L2918.8 1675.5 L2921.5 1675.4 L2924.2 1676.3 L2926.8 1678.0 L2929.5 1677.8 L2932.2 1676.8 L2934.9 1676.0 L2937.5 1675.8 L2940.2 1676.7 L2942.9 1676.7 L2945.6 1675.7 L2948.2 1673.6 L2950.9 1672.0 L2953.6 1669.8 L2956.2 1670.9 L2958.9 1671.2 L2961.6 1671.5 L2964.3 1671.8 L2966.9 1671.5 L2969.6 1671.7 L2972.3 1671.9 L2975.0 1672.2 L2977.6 1673.2 L2980.3 1675.0 L2983.0 1677.0 L2985.7 1676.6 L2988.3 1676.0 L2991.0 1677.2 L2993.7 1678.7 L2996.4 1678.9 L2999.0 1680.2 L3001.7 1680.9 L3004.4 1680.4 L3007.0 1681.5 L3009.7 1681.1 L3012.4 1680.0 L3015.1 1678.3 L3017.7 1675.3 L3020.4 1673.9 L3023.1 1674.5 L3025.8 1674.9 L3028.4 1675.0 L3031.1 1675.8 L3033.8 1676.1 L3036.5 1677.7 L3039.1 1679.4 L3041.8 1680.8 L3044.5 1680.3 L3047.2 1679.7 L3049.8 1678.3 L3052.5 1678.3 L3055.2 1679.1 L3057.9 1679.9 L3060.5 1679.8 L3063.2 1680.8 L3065.9 1683.6 L3068.5 1683.5 L3071.2 1685.2 L3073.9 1687.5 L3076.6 1689.0 L3079.2 1690.2 L3081.9 1691.9 L3084.6 1691.0 L3087.3 1689.4 L3089.9 1687.2 L3092.6 1686.2 L3095.3 1684.5 L3098.0 1683.4 L3100.6 1683.6 L3103.3 1683.5 L3106.0 1683.3 L3108.7 1682.4 L3111.3 1681.0 L3114.0 1682.5"/>
<path stroke="#000000" d="M440.2 1737.5 L442.9 1737.0 L445.5 1737.0 L448.2 1737.4 L450.9 1736.9 L453.6 1736.6 L456.2 1736.4 L458.9 1736.1 L461.6 1735.8 L464.3 1735.1 L466.9 1734.5 L469.6 1735.2 L472.3 1736.5 L475.0 1736.9 L477.6 1737.6 L480.3 1738.6 L483.0 1737.6 L485.7 1737.1 L488.3 1736.9 L491.0 1738.1 L493.7 1738.8 L496.3 1739.4 L499.0 1740.2 L501.7 1739.5 L504.4 1738.3 L507.0 1737.7 L509.7 1737.7 L512.4 1738.1 L515.1 1737.6 L517.7 1737.2 L520.4 1737.2 L523.1 1736.9 L525.8 1736.2 L528.4 1735.8 L531.1 1735.4 L533.8 1735.2 L536.5 1735.0 L539.1 1734.9 L541.8 1735.1 L544.5 1734.9 L547.2 1734.0 L549.8 1734.0 L552.5 1733.6 L555.2 1733.0 L557.8 1732.1 L560.5 1731.7 L563.2 1733.0 L565.9 1733.8 L568.5 1734.5 L571.2 1735.2 L573.9 1735.6 L576.6 1736.6 L579.2 1737.6 L581.9 1737.9 L584.6 1737.9 L587.3 1737.9 L589.9 1737.3 L592.6 1736.6 L595.3 1736.0 L598.0 1735.5 L600.6 1736.1 L603.3 1737.6 L606.0 1736.9 L608.6 1736.3 L611.3 1736.0 L614.0 1735.6 L616.7 1735.6 L619.3 1735.0 L622.0 1734.7 L624.7 1734.1 L627.4 1733.9 L630.0 1733.9 L632.7 1733.8 L635.4 1732.9 L638.1 1731.9 L640.7 1731.3 L643.4 1731.8 L646.1 1732.1 L648.8 1731.5 L651.4 1731.0 L654.1 1730.7 L656.8 1730.3 L659.5 1729.6 L662.1 1729.7 L664.8 1730.2 L667.5 1730.1 L670.1 1730.0 L672.8 1730.0 L675.5 1728.9 L678.2 1728.6 L680.8 1727.3 L683.5 1726.6 L686.2 1728.1 L688.9 1728.8 L691.5 1729.4 L694.2 1730.3 L696.9 1730.5 L699.6 1732.0 L702.2 1733.3 L704.9 1733.1 L707.6 1732.7 L710.3 1732.6 L712.9 1732.9 L715.6 1732.7 L718.3 1731.8 L720.9 1731.1 L723.6 1731.1 L726.3 1730.7 L729.0 1730.4 L731.6 1731.1 L734.3 1730.7 L737.0 1730.5 L739.7 1729.5 L742.3 1729.7 L745.0 1729.4 L747.7 1729.6 L750.4 1729.1 L753.0 1728.1 L755.7 1728.5 L758.4 1729.5 L761.1 1730.5 L763.7 1731.9 L766.4 1732.6 L769.1 1732.7 L771.8 1733.0 L774.4 1733.8 L777.1 1733.9 L779.8 1734.2 L782.4 1734.0 L785.1 1734.3 L787.8 1734.0 L790.5 1733.7 L793.1 1733.6 L795.8 1732.8 L798.5 1732.7 L801.2 1734.0 L803.8 1734.7 L806.5 1734.8 L809.2 1735.0 L811.9 1734.8 L814.5 1733.8 L817.2 1733.6 L819.9 1733.5 L822.6 1733.5 L825.2 1732.9 L827.9 1732.1 L830.6 1731.9 L833.2 1731.7 L835.9 1731.3 L838.6 1731.1 L841.3 1731.3 L843.9 1732.0 L846.6 1731.8 L849.3 1731.2 L852.0 1730.4 L854.6 1730.2 L857.3 1730.6 L860.0 1730.3 L862.7 1729.5 L865.3 1728.7 L868.0 1727.6 L870.7 1727.9 L873.4 1727.4 L876.0 1726.8 L878.7 1726.5 L881.4 1725.1 L884.1 1724.4 L886.7 1725.0 L889.4 1725.1 L892.1 1724.4 L894.7 1724.5 L897.4 1724.8 L900.1 1724.6 L902.8 1723.4 L905.4 1723.4 L908.1 1724.0 L910.8 1724.6 L913.5 1724.5 L916.1 1724.6 L918.8 1724.9 L921.5 1724.9 L924.2 1724.4 L926.8 1723.7 L929.5 1723.7 L932.2 1723.6 L934.9 1723.4 L937.5 1723.4 L940.2 1723.0 L942.9 1722.8 L945.5 1722.9 L948.2 1723.1 L950.9 1721.8 L953.6 1721.1 L956.2 1720.6 L958.9 1720.5 L961.6 1720.1 L964.3 1719.4 L966.9 1719.2 L969.6 1718.3 L972.3 1718.2 L975.0 1718.8 L977.6 1719.6 L980.3 1720.4 L983.0 1719.9 L985.7 1718.7 L988.3 1718.5 L991.0 1718.4 L993.7 1717.7 L996.4 1716.3 L999.0 1715.6 L1001.7 1715.8 L1004.4 1716.3 L1007.0 1715.7 L1009.7 1715.3 L1012.4 1715.8 L1015.1 1716.0 L1017.7 1716.3 L1020.4 1716.4 L1023.1 1716.2 L1025.8 1716.7 L1028.4 1717.3 L1031.1 1717.3 L1033.8 1716.6 L1036.5 1716.7 L1039.1 1716.7 L1041.8 1716.5 L1044.5 1717.0 L1047.2 1717.6 L1049.8 1718.4 L1052.5 1718.8 L1055.2 1717.8 L1057.8 1717.4 L1060.5 1716.4 L1063.2 1716.1 L1065.9 1715.3 L1068.5 1714.6 L1071.2 1714.0 L1073.9 1713.4 L1076.6 1713.9 L1079.2 1714.1 L1081.9 1714.1 L1084.6 1713.3 L1087.3 1713.2 L1089.9 1714.0 L1092.6 1713.7 L1095.3 1712.7 L1098.0 1711.7 L1100.6 1710.9 L1103.3 1710.4 L1106.0 1709.7 L1108.7 1709.5 L1111.3 1708.8 L1114.0 1707.9 L1116.7 1707.8 L1119.3 1707.1 L1122.0 1707.4 L1124.7 1707.6 L1127.4 1706.4 L1130.0 1704.5 L1132.7 1703.9 L1135.4 1704.2 L1138.1 1703.4 L1140.7 1703.7 L1143.4 1703.1 L1146.1 1702.9 L1148.8 1703.0 L1151.4 1701.9 L1154.1 1701.1 L1156.8 1701.9 L1159.5 1702.7 L1162.1 1702.2 L1164.8 1703.0 L1167.5 1703.8 L1170.1 1705.5 L1172.8 1706.1 L1175.5 1705.9 L1178.2 1705.4 L1180.8 1705.4 L1183.5 1705.6 L1186.2 1705.0 L1188.9 1704.3 L1191.5 1703.9 L1194.2 1704.1 L1196.9 1704.5 L1199.6 1704.1 L1202.2 1704.2 L1204.9 1704.1 L1207.6 1703.2 L1210.3 1702.8 L1212.9 1701.5 L1215.6 1700.4 L1218.3 1699.5 L1220.9 1698.2 L1223.6 1697.5 L1226.3 1696.7 L1229.0 1695.4 L1231.6 1695.2 L1234.3 1695.5 L1237.0 1695.3 L1239.7 1694.8 L1242.3 1694.4 L1245.0 1694.1 L1247.7 1693.5 L1250.4 1693.8 L1253.0 1692.8 L1255.7 1691.4 L1258.4 1691.1 L1261.1 1690.1 L1263.7 1689.0 L1266.4 1688.6 L1269.1 1688.6 L1271.8 1688.4 L1274.4 1689.4 L1277.1 1691.7 L1279.8 1692.2 L1282.4 1690.8 L1285.1 1690.7 L1287.8 1691.3 L1290.5 1691.3 L1293.1 1691.4 L1295.8 1691.1 L1298.5 1691.1 L1301.2 1691.9 L1303.8 1691.6 L1306.5 1691.3 L1309.2 1692.0 L1311.9 1692.8 L1314.5 1692.4 L1317.2 1692.9 L1319.9 1693.4 L1322.6 1693.1 L1325.2 1693.0 L1327.9 1693.1 L1330.6 1692.3 L1333.2 1691.9 L1335.9 1691.5 L1338.6 1691.4 L1341.3 1691.5 L1343.9 1691.1 L1346.6 1689.7 L1349.3 1689.1 L1352.0 1688.5 L1354.6 1688.1 L1357.3 1687.6 L1360.0 1686.9 L1362.7 1685.9 L1365.3 1685.7 L1368.0 1685.5 L1370.7 1685.3 L1373.4 1685.2 L1376.0 1684.2 L1378.7 1684.4 L1381.4 1685.2 L1384.1 1685.2 L1386.7 1684.9 L1389.4 1684.3 L1392.1 1684.3 L1394.7 1684.0 L1397.4 1683.5 L1400.1 1684.3 L1402.8 1685.5 L1405.4 1684.8 L1408.1 1684.6 L1410.8 1684.8 L1413.5 1685.7 L1416.1 1686.7 L1418.8 1687.5 L1421.5 1688.1 L1424.2 1689.2 L1426.8 1690.0 L1429.5 1691.3 L1432.2 1691.1 L1434.9 1688.8 L1437.5 1687.4 L1440.2 1685.7 L1442.9 1686.0 L1445.5 1685.6 L1448.2 1684.9 L1450.9 1684.4 L1453.6 1684.1 L1456.2 1684.1 L1458.9 1683.9 L1461.6 1683.6 L1464.3 1681.5 L1466.9 1680.2 L1469.6 1679.9 L1472.3 1679.2 L1475.0 1677.3 L1477.6 1676.3 L1480.3 1675.6 L1483.0 1675.1 L1485.7 1674.1 L1488.3 1673.6 L1491.0 1672.6 L1493.7 1672.8 L1496.4 1672.4 L1499.0 1673.4 L1501.7 1675.0 L1504.4 1674.7 L1507.0 1675.5 L1509.7 1677.7 L1512.4 1678.7 L1515.1 1677.9 L1517.7 1676.4 L1520.4 1675.0 L1523.1 1673.1 L1525.8 1671.9 L1528.4 1671.4 L1531.1 1670.3 L1533.8 1668.8 L1536.5 1667.6 L1539.1 1666.6 L1541.8 1666.1 L1544.5 1666.2 L1547.2 1665.7 L1549.8 1665.0 L1552.5 1663.7 L1555.2 1662.4 L1557.8 1661.2 L1560.5 1660.3 L1563.2 1659.1 L1565.9 1658.5 L1568.5 1657.4 L1571.2 1656.2 L1573.9 1655.6 L1576.6 1656.0 L1579.2 1657.3 L1581.9 1659.3 L1584.6 1658.8 L1587.3 1658.9 L1589.9 1659.3 L1592.6 1658.7 L1595.3 1658.9 L1598.0 1658.2 L1600.6 1657.4 L1603.3 1657.1 L1606.0 1656.7 L1608.7 1655.5 L1611.3 1655.6 L1614.0 1655.1 L1616.7 1653.7 L1619.3 1652.9 L1622.0 1652.9 L1624.7 1652.6 L1627.4 1651.0 L1630.0 1649.9 L1632.7 1648.0 L1635.4 1646.9 L1638.1 1646.0 L1640.7 1645.0 L1643.4 1643.9 L1646.1 1644.1 L1648.8 1645.5 L1651.4 1646.3 L1654.1 1644.9 L1656.8 1643.0 L1659.5 1640.6 L1662.1 1638.3 L1664.8 1637.8 L1667.5 1636.0 L1670.1 1634.9 L1672.8 1634.1 L1675.5 1632.9 L1678.2 1631.1 L1680.8 1628.9 L1683.5 1627.0 L1686.2 1625.6 L1688.9 1624.4 L1691.5 1622.7 L1694.2 1621.2 L1696.9 1620.3 L1699.6 1620.0 L1702.2 1618.3 L1704.9 1614.6 L1707.6 1611.7 L1710.3 1610.2 L1712.9 1608.2 L1715.6 1605.9 L1718.3 1604.4 L1721.0 1603.4 L1723.6 1603.5 L1726.3 1602.9 L1729.0 1601.6 L1731.6 1601.0 L1734.3 1598.8 L1737.0 1597.0 L1739.7 1595.7 L1742.3 1594.1 L1746.4 1590.9 L1750.7 1573.7 L1753.9 1560.8 L1755.7 1555.8 L1758.2 1550.0 L1761.5 1530.6 L1763.6 1504.7 L1764.7 1485.3 L1767.3 1481.0 L1769.1 1483.7 L1771.2 1486.4 L1774.4 1500.4 L1777.1 1508.7 L1778.7 1513.3 L1782.4 1516.1 L1785.1 1515.0 L1787.8 1514.8 L1790.5 1515.2 L1793.1 1515.0 L1795.8 1514.8 L1798.5 1516.2 L1802.4 1518.7 L1803.8 1522.7 L1805.7 1528.4 L1810.0 1547.8 L1811.9 1553.9 L1815.4 1565.1 L1818.2 1582.3 L1820.3 1608.2 L1821.8 1634.1 L1826.1 1631.9 L1827.9 1626.1 L1829.4 1621.1 L1832.6 1610.4 L1835.9 1605.7 L1838.6 1605.2 L1841.3 1607.2 L1843.9 1609.1 L1846.6 1612.1 L1849.3 1615.0 L1852.0 1618.9 L1854.6 1622.8 L1857.3 1626.0 L1860.0 1628.5 L1862.7 1630.8 L1865.3 1632.6 L1868.0 1633.9 L1870.7 1634.8 L1873.4 1636.1 L1876.0 1637.9 L1878.7 1640.0 L1881.4 1643.7 L1884.1 1647.3 L1886.7 1650.7 L1889.4 1652.8 L1892.1 1654.5 L1894.7 1657.2 L1897.4 1659.5 L1900.1 1660.0 L1902.8 1660.6 L1905.4 1661.4 L1908.1 1662.4 L1910.8 1662.4 L1913.5 1662.8 L1916.1 1663.3 L1918.8 1664.3 L1921.5 1665.0 L1924.2 1665.6 L1926.8 1665.7 L1929.5 1666.0 L1932.2 1666.5 L1934.9 1668.4 L1937.5 1669.7 L1940.2 1670.6 L1942.9 1671.6 L1945.5 1671.4 L1948.2 1671.7 L1950.9 1672.2 L1953.6 1673.4 L1956.2 1675.4 L1958.9 1677.1 L1961.6 1678.9 L1964.3 1680.8 L1966.9 1682.0 L1969.6 1682.9 L1972.3 1683.9 L1975.0 1685.3 L1977.6 1686.1 L1980.3 1686.9 L1983.0 1687.7 L1985.7 1687.9 L1988.3 1688.6 L1991.0 1689.5 L1993.7 1689.6 L1996.4 1690.4 L1999.0 1690.6 L2001.7 1690.3 L2004.4 1691.4 L2007.0 1691.8 L2009.7 1692.1 L2012.4 1692.0 L2015.1 1692.2 L2017.7 1692.7 L2020.4 1693.0 L2023.1 1694.1 L2025.8 1693.3 L2028.4 1692.6 L2031.1 1691.8 L2033.8 1692.2 L2036.5 1691.7 L2039.1 1691.3 L2041.8 1691.7 L2044.5 1692.2 L2047.2 1692.9 L2049.8 1693.6 L2052.5 1693.7 L2055.2 1694.3 L2057.8 1694.3 L2060.5 1694.1 L2063.2 1693.9 L2065.9 1694.4 L2068.5 1694.9 L2071.2 1694.8 L2073.9 1696.3 L2076.6 1697.1 L2079.2 1697.1 L2081.9 1697.5 L2084.6 1698.4 L2087.3 1699.0 L2089.9 1699.4 L2092.6 1701.0 L2095.3 1701.5 L2098.0 1702.1 L2100.6 1702.8 L2103.3 1703.2 L2106.0 1703.3 L2108.7 1702.9 L2111.3 1702.5 L2114.0 1702.6 L2116.7 1702.8 L2119.3 1703.8 L2122.0 1704.1 L2124.7 1704.4 L2127.4 1704.6 L2130.0 1704.8 L2132.7 1704.7 L2135.4 1704.9 L2138.1 1705.2 L2140.7 1705.6 L2143.4 1706.1 L2146.1 1707.0 L2148.8 1706.4 L2151.4 1706.3 L2154.1 1707.6 L2156.8 1708.8 L2159.5 1709.3 L2162.1 1710.1 L2164.8 1710.9 L2167.5 1711.3 L2170.1 1712.2 L2172.8 1712.7 L2175.5 1713.1 L2178.2 1714.0 L2180.8 1714.4 L2183.5 1714.0 L2186.2 1714.1 L2188.9 1715.0 L2191.5 1716.1 L2194.2 1717.1 L2196.9 1717.2 L2199.6 1717.3 L2202.2 1718.0 L2204.9 1718.7 L2207.6 1719.1 L2210.3 1718.7 L2212.9 1719.5 L2215.6 1720.7 L2218.3 1720.6 L2221.0 1721.0 L2223.6 1721.3 L2226.3 1721.6 L2229.0 1722.4 L2231.6 1722.6 L2234.3 1722.4 L2237.0 1723.1 L2239.7 1723.7 L2242.3 1723.3 L2245.0 1724.1 L2247.7 1723.8 L2250.4 1723.3 L2253.0 1723.4 L2255.7 1723.4 L2258.4 1723.1 L2261.1 1722.4 L2263.7 1721.9 L2266.4 1721.4 L2269.1 1721.7 L2271.8 1721.9 L2274.4 1721.5 L2277.1 1721.5 L2279.8 1720.9 L2282.4 1720.2 L2285.1 1719.9 L2287.8 1719.4 L2290.5 1718.0 L2293.1 1716.8 L2295.8 1716.1 L2298.5 1715.6 L2301.2 1715.4 L2303.8 1716.6 L2306.5 1718.0 L2309.2 1718.1 L2311.9 1717.8 L2314.5 1716.8 L2317.2 1716.5 L2319.9 1717.8 L2322.6 1718.6 L2325.2 1718.2 L2327.9 1718.8 L2330.6 1720.2 L2333.3 1721.3 L2335.9 1721.4 L2338.6 1720.9 L2341.3 1721.3 L2343.9 1721.6 L2346.6 1722.5 L2349.3 1724.4 L2352.0 1725.5 L2354.6 1726.0 L2357.3 1727.2 L2360.0 1727.9 L2362.7 1728.4 L2365.3 1729.9 L2368.0 1730.3 L2370.7 1729.8 L2373.4 1730.6 L2376.0 1731.0 L2378.7 1731.1 L2381.4 1729.7 L2384.1 1728.9 L2386.7 1727.8 L2389.4 1727.8 L2392.1 1727.3 L2394.7 1726.5 L2397.4 1726.4 L2400.1 1726.0 L2402.8 1726.9 L2405.4 1727.4 L2408.1 1726.9 L2410.8 1727.9 L2413.5 1727.4 L2416.1 1726.7 L2418.8 1725.9 L2421.5 1726.2 L2424.2 1726.9 L2426.8 1726.7 L2429.5 1727.7 L2432.2 1728.9 L2434.9 1728.8 L2437.5 1728.9 L2440.2 1729.5 L2442.9 1729.7 L2445.6 1729.9 L2448.2 1731.2 L2450.9 1731.1 L2453.6 1730.6 L2456.2 1731.5 L2458.9 1732.0 L2461.6 1731.0 L2464.3 1730.7 L2466.9 1731.2 L2469.6 1732.1 L2472.3 1732.8 L2475.0 1733.5 L2477.6 1734.9 L2480.3 1734.6 L2483.0 1734.5 L2485.7 1735.2 L2488.3 1735.8 L2491.0 1736.0 L2493.7 1735.3 L2496.4 1735.3 L2499.0 1734.8 L2501.7 1735.1 L2504.4 1735.4 L2507.0 1734.8 L2509.7 1734.3 L2512.4 1734.7 L2515.1 1734.7 L2517.7 1734.3 L2520.4 1734.3 L2523.1 1734.1 L2525.8 1733.6 L2528.4 1732.6 L2531.1 1732.3 L2533.8 1732.6 L2536.5 1732.5 L2539.1 1732.4 L2541.8 1732.6 L2544.5 1733.2 L2547.2 1733.3 L2549.8 1733.2 L2552.5 1734.0 L2555.2 1734.7 L2557.8 1734.7 L2560.5 1734.1 L2563.2 1734.8 L2565.9 1735.3 L2568.5 1735.5 L2571.2 1735.9 L2573.9 1735.9 L2576.6 1736.2 L2579.2 1736.2 L2581.9 1737.0 L2584.6 1737.4 L2587.3 1736.5 L2589.9 1737.0 L2592.6 1736.9 L2595.3 1737.3 L2598.0 1737.3 L2600.6 1737.4 L2603.3 1738.0 L2606.0 1738.7 L2608.7 1737.1 L2611.3 1736.0 L2614.0 1735.5 L2616.7 1735.3 L2619.3 1735.6 L2622.0 1735.6 L2624.7 1735.1 L2627.4 1735.1 L2630.0 1736.0 L2632.7 1736.3 L2635.4 1735.4 L2638.1 1735.2 L2640.7 1735.7 L2643.4 1736.0 L2646.1 1736.5 L2648.8 1737.2 L2651.4 1736.8 L2654.1 1736.8 L2656.8 1737.1 L2659.5 1737.4 L2662.1 1736.8 L2664.8 1736.5 L2667.5 1737.0 L2670.1 1737.4 L2672.8 1737.8 L2675.5 1737.5 L2678.2 1736.7 L2680.8 1737.4 L2683.5 1737.4 L2686.2 1736.4 L2688.9 1736.5 L2691.5 1736.4 L2694.2 1736.4 L2696.9 1737.0 L2699.6 1737.2 L2702.2 1737.4 L2704.9 1736.9 L2707.6 1736.9 L2710.3 1736.6 L2712.9 1737.0 L2715.6 1737.8 L2718.3 1737.3 L2721.0 1737.6 L2723.6 1738.0 L2726.3 1737.6 L2729.0 1737.4 L2731.6 1737.7 L2734.3 1738.5 L2737.0 1738.5 L2739.7 1738.2 L2742.3 1738.2 L2745.0 1737.2 L2747.7 1737.7 L2750.4 1738.9 L2753.0 1739.4 L2755.7 1740.3 L2758.4 1741.3 L2761.1 1741.7 L2763.7 1742.0 L2766.4 1742.8 L2769.1 1741.5 L2771.8 1740.8 L2774.4 1740.8 L2777.1 1740.5 L2779.8 1740.4 L2782.4 1740.4 L2785.1 1740.3 L2787.8 1739.4 L2790.5 1737.8 L2793.1 1738.0 L2795.8 1738.7 L2798.5 1738.8 L2801.2 1738.9 L2803.8 1738.6 L2806.5 1739.5 L2809.2 1739.2 L2811.9 1738.1 L2814.5 1738.5 L2817.2 1738.9 L2819.9 1739.3 L2822.6 1739.3 L2825.2 1738.5 L2827.9 1738.4 L2830.6 1738.4 L2833.3 1739.5 L2835.9 1739.2 L2838.6 1739.5 L2841.3 1739.8 L2843.9 1739.8 L2846.6 1740.1 L2849.3 1739.8 L2852.0 1740.4 L2854.6 1741.2 L2857.3 1741.8 L2860.0 1741.4 L2862.7 1741.3 L2865.3 1741.2 L2868.0 1741.2 L2870.7 1741.4 L2873.4 1741.4 L2876.0 1741.9 L2878.7 1742.3 L2881.4 1742.7 L2884.1 1743.3 L2886.7 1743.8 L2889.4 1743.5 L2892.1 1743.4 L2894.7 1743.0 L2897.4 1743.0 L2900.1 1743.3 L2902.8 1743.0 L2905.4 1742.6 L2908.1 1742.6 L2910.8 1743.1 L2913.5 1743.9 L2916.1 1743.1 L2918.8 1742.9 L2921.5 1743.7 L2924.2 1743.8 L2926.8 1743.9 L2929.5 1743.1 L2932.2 1742.2 L2934.9 1741.8 L2937.5 1741.8 L2940.2 1741.1 L2942.9 1740.4 L2945.6 1740.6 L2948.2 1741.5 L2950.9 1741.5 L2953.6 1740.5 L2956.2 1739.8 L2958.9 1740.3 L2961.6 1740.0 L2964.3 1739.5 L2966.9 1739.6 L2969.6 1739.5 L2972.3 1739.2 L2975.0 1739.8 L2977.6 1740.5 L2980.3 1740.3 L2983.0 1740.0 L2985.7 1740.0 L2988.3 1741.6 L2991.0 1742.6 L2993.7 1742.8 L2996.4 1742.2 L2999.0 1742.0 L3001.7 1742.6 L3004.4 1743.2 L3007.0 1743.4 L3009.7 1743.3 L3012.4 1743.7 L3015.1 1744.9 L3017.7 1745.0 L3020.4 1744.9 L3023.1 1745.4 L3025.8 1745.6 L3028.4 1744.6 L3031.1 1744.1 L3033.8 1743.7 L3036.5 1742.3 L3039.1 1741.8 L3041.8 1742.0 L3044.5 1742.0 L3047.2 1741.7 L3049.8 1741.0 L3052.5 1740.2 L3055.2 1739.8 L3057.9 1740.4 L3060.5 1740.3 L3063.2 1739.1 L3065.9 1739.2 L3068.5 1738.7 L3071.2 1738.5 L3073.9 1738.1 L3076.6 1738.4 L3079.2 1738.7 L3081.9 1739.5 L3084.6 1740.1 L3087.3 1739.6 L3089.9 1739.8 L3092.6 1740.3 L3095.3 1740.9 L3098.0 1740.8 L3100.6 1739.9 L3103.3 1739.5 L3106.0 1739.8 L3108.7 1740.3 L3111.3 1740.7 L3114.0 1740.7"/>
<path stroke="#808080" d="M440.2 1749.3 L442.9 1749.9 L445.5 1749.8 L448.2 1748.6 L450.9 1748.3 L453.6 1748.4 L456.2 1748.7 L458.9 1748.7 L461.6 1748.5 L464.3 1749.0 L466.9 1749.0 L469.6 1749.5 L472.3 1749.6 L475.0 1750.0 L477.6 1749.8 L480.3 1749.2 L483.0 1748.5 L485.7 1747.9 L488.3 1747.9 L491.0 1748.5 L493.7 1748.3 L496.3 1748.2 L499.0 1747.3 L501.7 1746.5 L504.4 1745.7 L507.0 1745.7 L509.7 1745.8 L512.4 1747.0 L515.1 1747.7 L517.7 1747.8 L520.4 1746.7 L523.1 1744.7 L525.8 1743.5 L528.4 1744.0 L531.1 1743.4 L533.8 1742.5 L536.5 1742.9 L539.1 1744.2 L541.8 1745.0 L544.5 1744.7 L547.2 1744.5 L549.8 1745.3 L552.5 1745.3 L555.2 1744.5 L557.8 1744.6 L560.5 1744.2 L563.2 1744.3 L565.9 1744.5 L568.5 1743.9 L571.2 1743.4 L573.9 1744.5 L576.6 1744.9 L579.2 1745.9 L581.9 1745.9 L584.6 1746.8 L587.3 1747.5 L589.9 1747.4 L592.6 1747.6 L595.3 1747.8 L598.0 1748.2 L600.6 1747.7 L603.3 1747.4 L606.0 1746.8 L608.6 1747.4 L611.3 1747.8 L614.0 1748.0 L616.7 1747.7 L619.3 1746.2 L622.0 1745.3 L624.7 1745.1 L627.4 1745.2 L630.0 1745.3 L632.7 1743.9 L635.4 1744.1 L638.1 1744.4 L640.7 1743.6 L643.4 1742.8 L646.1 1743.0 L648.8 1743.6 L651.4 1743.7 L654.1 1743.2 L656.8 1743.3 L659.5 1743.9 L662.1 1743.9 L664.8 1744.5 L667.5 1744.3 L670.1 1744.9 L672.8 1744.5 L675.5 1745.4 L678.2 1744.9 L680.8 1744.3 L683.5 1744.9 L686.2 1745.3 L688.9 1745.4 L691.5 1745.1 L694.2 1744.8 L696.9 1744.8 L699.6 1745.2 L702.2 1745.7 L704.9 1745.9 L707.6 1746.2 L710.3 1746.3 L712.9 1746.6 L715.6 1746.9 L718.3 1746.4 L720.9 1745.5 L723.6 1745.7 L726.3 1746.1 L729.0 1746.1 L731.6 1746.2 L734.3 1745.0 L737.0 1744.1 L739.7 1743.6 L742.3 1742.8 L745.0 1742.9 L747.7 1743.3 L750.4 1743.4 L753.0 1743.6 L755.7 1743.6 L758.4 1743.4 L761.1 1743.0 L763.7 1743.6 L766.4 1743.4 L769.1 1742.5 L771.8 1742.1 L774.4 1741.5 L777.1 1741.1 L779.8 1742.0 L782.4 1742.3 L785.1 1743.1 L787.8 1743.3 L790.5 1742.3 L793.1 1742.1 L795.8 1742.5 L798.5 1742.0 L801.2 1741.5 L803.8 1741.8 L806.5 1742.1 L809.2 1741.7 L811.9 1742.4 L814.5 1743.0 L817.2 1742.6 L819.9 1742.6 L822.6 1743.2 L825.2 1743.5 L827.9 1743.3 L830.6 1743.1 L833.2 1743.0 L835.9 1742.3 L838.6 1742.7 L841.3 1742.3 L843.9 1741.4 L846.6 1741.0 L849.3 1741.9 L852.0 1741.7 L854.6 1741.7 L857.3 1741.8 L860.0 1741.0 L862.7 1741.1 L865.3 1741.3 L868.0 1741.3 L870.7 1740.9 L873.4 1740.9 L876.0 1739.7 L878.7 1738.9 L881.4 1738.2 L884.1 1737.8 L886.7 1738.3 L889.4 1737.5 L892.1 1737.1 L894.7 1737.2 L897.4 1737.1 L900.1 1736.6 L902.8 1737.1 L905.4 1737.6 L908.1 1737.2 L910.8 1737.1 L913.5 1736.8 L916.1 1736.1 L918.8 1735.6 L921.5 1736.0 L924.2 1736.9 L926.8 1737.1 L929.5 1736.7 L932.2 1737.5 L934.9 1737.9 L937.5 1737.4 L940.2 1738.0 L942.9 1739.5 L945.5 1740.4 L948.2 1741.0 L950.9 1741.8 L953.6 1741.5 L956.2 1741.2 L958.9 1740.5 L961.6 1739.9 L964.3 1739.4 L966.9 1739.9 L969.6 1740.2 L972.3 1740.5 L975.0 1741.4 L977.6 1741.6 L980.3 1741.6 L983.0 1741.7 L985.7 1741.5 L988.3 1741.1 L991.0 1740.4 L993.7 1740.4 L996.4 1739.8 L999.0 1739.6 L1001.7 1739.4 L1004.4 1739.6 L1007.0 1738.5 L1009.7 1738.5 L1012.4 1738.1 L1015.1 1738.2 L1017.7 1737.1 L1020.4 1736.8 L1023.1 1736.3 L1025.8 1735.7 L1028.4 1734.4 L1031.1 1734.2 L1033.8 1734.4 L1036.5 1734.1 L1039.1 1732.8 L1041.8 1731.8 L1044.5 1731.9 L1047.2 1731.8 L1049.8 1731.7 L1052.5 1731.3 L1055.2 1730.8 L1057.8 1731.1 L1060.5 1731.6 L1063.2 1731.2 L1065.9 1730.9 L1068.5 1731.0 L1071.2 1730.5 L1073.9 1730.8 L1076.6 1731.2 L1079.2 1731.3 L1081.9 1731.3 L1084.6 1732.0 L1087.3 1732.8 L1089.9 1732.5 L1092.6 1732.7 L1095.3 1732.9 L1098.0 1731.6 L1100.6 1732.2 L1103.3 1733.0 L1106.0 1732.7 L1108.7 1733.6 L1111.3 1734.8 L1114.0 1735.0 L1116.7 1735.6 L1119.3 1736.3 L1122.0 1735.3 L1124.7 1735.5 L1127.4 1735.0 L1130.0 1735.3 L1132.7 1735.5 L1135.4 1735.1 L1138.1 1734.8 L1140.7 1735.3 L1143.4 1735.4 L1146.1 1735.7 L1148.8 1735.8 L1151.4 1736.0 L1154.1 1736.2 L1156.8 1735.1 L1159.5 1733.6 L1162.1 1733.3 L1164.8 1733.4 L1167.5 1732.9 L1170.1 1732.8 L1172.8 1733.0 L1175.5 1733.5 L1178.2 1732.9 L1180.8 1733.2 L1183.5 1733.2 L1186.2 1733.6 L1188.9 1733.4 L1191.5 1734.6 L1194.2 1734.8 L1196.9 1735.1 L1199.6 1734.2 L1202.2 1733.2 L1204.9 1733.0 L1207.6 1733.0 L1210.3 1733.4 L1212.9 1733.6 L1215.6 1733.0 L1218.3 1732.7 L1220.9 1733.2 L1223.6 1733.8 L1226.3 1733.3 L1229.0 1733.5 L1231.6 1733.2 L1234.3 1733.2 L1237.0 1733.1 L1239.7 1732.4 L1242.3 1733.1 L1245.0 1732.8 L1247.7 1731.0 L1250.4 1730.2 L1253.0 1730.3 L1255.7 1730.2 L1258.4 1730.1 L1261.1 1730.9 L1263.7 1731.3 L1266.4 1730.3 L1269.1 1729.9 L1271.8 1729.4 L1274.4 1729.2 L1277.1 1729.1 L1279.8 1729.3 L1282.4 1729.5 L1285.1 1729.4 L1287.8 1729.5 L1290.5 1729.4 L1293.1 1729.5 L1295.8 1729.0 L1298.5 1729.5 L1301.2 1729.6 L1303.8 1729.6 L1306.5 1729.4 L1309.2 1729.2 L1311.9 1729.1 L1314.5 1728.9 L1317.2 1728.4 L1319.9 1727.3 L1322.6 1727.5 L1325.2 1727.6 L1327.9 1727.3 L1330.6 1728.3 L1333.2 1727.7 L1335.9 1726.3 L1338.6 1726.8 L1341.3 1726.4 L1343.9 1726.1 L1346.6 1725.8 L1349.3 1725.2 L1352.0 1725.5 L1354.6 1725.7 L1357.3 1725.2 L1360.0 1725.3 L1362.7 1725.7 L1365.3 1725.7 L1368.0 1725.2 L1370.7 1725.3 L1373.4 1725.4 L1376.0 1725.8 L1378.7 1725.6 L1381.4 1725.8 L1384.1 1725.6 L1386.7 1725.4 L1389.4 1725.9 L1392.1 1725.8 L1394.7 1725.6 L1397.4 1726.1 L1400.1 1726.0 L1402.8 1725.0 L1405.4 1725.1 L1408.1 1724.3 L1410.8 1724.6 L1413.5 1725.0 L1416.1 1724.7 L1418.8 1724.3 L1421.5 1724.2 L1424.2 1724.1 L1426.8 1723.9 L1429.5 1724.4 L1432.2 1723.3 L1434.9 1723.3 L1437.5 1723.4 L1440.2 1724.0 L1442.9 1724.2 L1445.5 1724.5 L1448.2 1724.6 L1450.9 1723.0 L1453.6 1721.7 L1456.2 1720.9 L1458.9 1720.2 L1461.6 1719.1 L1464.3 1718.2 L1466.9 1717.9 L1469.6 1717.4 L1472.3 1716.7 L1475.0 1716.0 L1477.6 1715.7 L1480.3 1715.4 L1483.0 1716.3 L1485.7 1716.5 L1488.3 1715.9 L1491.0 1714.7 L1493.7 1713.3 L1496.4 1713.1 L1499.0 1712.5 L1501.7 1710.9 L1504.4 1710.7 L1507.0 1710.8 L1509.7 1711.4 L1512.4 1711.1 L1515.1 1710.9 L1517.7 1710.1 L1520.4 1709.6 L1523.1 1709.5 L1525.8 1709.9 L1528.4 1709.1 L1531.1 1708.5 L1533.8 1707.8 L1536.5 1707.7 L1539.1 1707.1 L1541.8 1706.9 L1544.5 1706.7 L1547.2 1705.2 L1549.8 1704.3 L1552.5 1706.6 L1555.2 1708.4 L1557.8 1708.1 L1560.5 1707.7 L1563.2 1708.3 L1565.9 1708.5 L1568.5 1708.5 L1571.2 1708.6 L1573.9 1708.1 L1576.6 1707.4 L1579.2 1706.5 L1581.9 1706.5 L1584.6 1706.3 L1587.3 1706.1 L1589.9 1706.2 L1592.6 1705.9 L1595.3 1706.6 L1598.0 1707.0 L1600.6 1707.9 L1603.3 1708.8 L1606.0 1709.3 L1608.7 1708.2 L1611.3 1706.4 L1614.0 1704.6 L1616.7 1703.8 L1619.3 1702.2 L1622.0 1700.7 L1624.7 1701.5 L1627.4 1701.5 L1630.0 1701.2 L1632.7 1701.2 L1635.4 1700.8 L1638.1 1699.4 L1640.7 1698.0 L1643.4 1697.5 L1646.1 1696.7 L1648.8 1695.8 L1651.4 1695.0 L1654.1 1693.8 L1656.8 1692.1 L1659.5 1691.2 L1662.1 1691.2 L1664.8 1691.8 L1667.5 1691.9 L1670.1 1690.6 L1672.8 1690.4 L1675.5 1690.4 L1678.2 1690.5 L1680.8 1690.4 L1683.5 1690.7 L1686.2 1691.0 L1688.9 1691.4 L1691.5 1691.6 L1694.2 1692.4 L1696.9 1692.4 L1699.6 1692.0 L1702.2 1691.8 L1704.9 1692.0 L1707.6 1691.8 L1710.3 1692.1 L1712.9 1692.3 L1715.6 1692.2 L1718.3 1691.4 L1721.0 1691.1 L1723.6 1691.0 L1726.3 1690.2 L1729.0 1688.4 L1731.6 1686.7 L1734.3 1686.0 L1737.0 1685.9 L1739.7 1684.9 L1742.3 1684.2 L1745.0 1684.3 L1747.7 1683.8 L1750.4 1682.0 L1753.0 1680.4 L1755.7 1679.2 L1758.4 1677.6 L1761.1 1675.6 L1764.7 1674.0 L1766.4 1670.9 L1767.9 1668.6 L1772.2 1669.6 L1774.4 1674.4 L1776.5 1679.4 L1779.8 1685.5 L1783.0 1692.3 L1785.1 1697.4 L1787.8 1703.4 L1789.5 1707.4 L1793.1 1711.1 L1795.8 1714.1 L1798.5 1713.0 L1801.2 1711.5 L1803.8 1710.1 L1806.5 1708.6 L1808.9 1707.4 L1813.2 1696.6 L1818.6 1685.8 L1822.6 1683.4 L1826.1 1682.6 L1827.9 1678.6 L1829.4 1675.0 L1833.2 1662.4 L1834.8 1657.8 L1838.6 1644.0 L1840.2 1638.4 L1844.5 1619.0 L1846.6 1612.2 L1848.8 1606.0 L1852.0 1601.5 L1854.6 1597.8 L1857.3 1596.8 L1860.0 1596.2 L1862.7 1595.6 L1865.3 1596.0 L1868.0 1600.4 L1870.7 1604.2 L1873.4 1606.1 L1876.0 1608.5 L1878.7 1609.9 L1881.4 1610.6 L1884.1 1611.1 L1886.7 1611.8 L1889.4 1613.7 L1892.1 1614.2 L1894.7 1614.9 L1897.4 1615.0 L1900.1 1615.1 L1902.8 1617.6 L1905.4 1620.9 L1908.1 1623.4 L1910.8 1624.6 L1913.5 1626.4 L1916.1 1627.2 L1918.8 1628.2 L1921.5 1629.3 L1924.2 1629.2 L1926.8 1629.0 L1929.5 1630.2 L1932.2 1630.4 L1934.9 1632.0 L1937.5 1634.4 L1940.2 1635.3 L1942.9 1635.3 L1945.5 1637.1 L1948.2 1638.4 L1950.9 1637.5 L1953.6 1638.1 L1956.2 1639.5 L1958.9 1641.3 L1961.6 1642.7 L1964.3 1643.8 L1966.9 1644.8 L1969.6 1646.4 L1972.3 1648.0 L1975.0 1649.9 L1977.6 1650.2 L1980.3 1650.4 L1983.0 1652.9 L1985.7 1655.6 L1988.3 1657.9 L1991.0 1659.0 L1993.7 1660.3 L1996.4 1660.5 L1999.0 1660.5 L2001.7 1661.3 L2004.4 1662.9 L2007.0 1665.0 L2009.7 1666.7 L2012.4 1668.0 L2015.1 1668.7 L2017.7 1669.7 L2020.4 1671.2 L2023.1 1672.0 L2025.8 1672.4 L2028.4 1672.9 L2031.1 1674.2 L2033.8 1675.1 L2036.5 1675.9 L2039.1 1677.0 L2041.8 1678.5 L2044.5 1679.5 L2047.2 1680.1 L2049.8 1680.8 L2052.5 1681.6 L2055.2 1682.2 L2057.8 1682.6 L2060.5 1682.4 L2063.2 1682.7 L2065.9 1683.4 L2068.5 1684.3 L2071.2 1685.0 L2073.9 1685.3 L2076.6 1685.7 L2079.2 1686.6 L2081.9 1687.2 L2084.6 1688.4 L2087.3 1689.4 L2089.9 1689.6 L2092.6 1690.7 L2095.3 1690.2 L2098.0 1689.6 L2100.6 1689.7 L2103.3 1690.0 L2106.0 1691.7 L2108.7 1693.0 L2111.3 1694.0 L2114.0 1695.0 L2116.7 1696.0 L2119.3 1696.2 L2122.0 1695.6 L2124.7 1695.8 L2127.4 1695.7 L2130.0 1695.6 L2132.7 1695.1 L2135.4 1694.5 L2138.1 1694.9 L2140.7 1695.2 L2143.4 1695.8 L2146.1 1695.7 L2148.8 1694.9 L2151.4 1694.0 L2154.1 1694.1 L2156.8 1695.1 L2159.5 1695.5 L2162.1 1696.7 L2164.8 1696.6 L2167.5 1695.9 L2170.1 1695.3 L2172.8 1696.5 L2175.5 1697.0 L2178.2 1698.1 L2180.8 1699.2 L2183.5 1699.7 L2186.2 1700.7 L2188.9 1701.5 L2191.5 1702.6 L2194.2 1703.0 L2196.9 1701.1 L2199.6 1699.5 L2202.2 1697.5 L2204.9 1695.5 L2207.6 1695.5 L2210.3 1695.1 L2212.9 1695.9 L2215.6 1696.2 L2218.3 1695.5 L2221.0 1694.8 L2223.6 1694.2 L2226.3 1693.0 L2229.0 1693.2 L2231.6 1693.7 L2234.3 1693.7 L2237.0 1694.3 L2239.7 1695.0 L2242.3 1694.9 L2245.0 1694.4 L2247.7 1694.0 L2250.4 1694.1 L2253.0 1694.0 L2255.7 1696.0 L2258.4 1698.5 L2261.1 1700.1 L2263.7 1700.1 L2266.4 1700.4 L2269.1 1700.8 L2271.8 1700.7 L2274.4 1701.7 L2277.1 1702.9 L2279.8 1704.8 L2282.4 1705.3 L2285.1 1705.8 L2287.8 1706.3 L2290.5 1705.8 L2293.1 1705.9 L2295.8 1705.8 L2298.5 1704.7 L2301.2 1704.8 L2303.8 1706.3 L2306.5 1707.2 L2309.2 1708.4 L2311.9 1709.3 L2314.5 1709.7 L2317.2 1709.5 L2319.9 1710.7 L2322.6 1711.3 L2325.2 1711.7 L2327.9 1712.2 L2330.6 1711.7 L2333.3 1710.9 L2335.9 1711.4 L2338.6 1711.5 L2341.3 1711.8 L2343.9 1712.8 L2346.6 1712.2 L2349.3 1711.6 L2352.0 1712.5 L2354.6 1712.5 L2357.3 1711.1 L2360.0 1710.7 L2362.7 1710.6 L2365.3 1709.4 L2368.0 1707.5 L2370.7 1707.5 L2373.4 1708.1 L2376.0 1707.6 L2378.7 1707.7 L2381.4 1708.0 L2384.1 1707.0 L2386.7 1707.1 L2389.4 1706.7 L2392.1 1705.9 L2394.7 1706.4 L2397.4 1706.7 L2400.1 1706.3 L2402.8 1705.6 L2405.4 1704.9 L2408.1 1706.1 L2410.8 1706.7 L2413.5 1707.7 L2416.1 1709.2 L2418.8 1711.0 L2421.5 1712.7 L2424.2 1713.4 L2426.8 1713.1 L2429.5 1714.1 L2432.2 1714.8 L2434.9 1715.3 L2437.5 1715.5 L2440.2 1715.3 L2442.9 1714.2 L2445.6 1714.2 L2448.2 1714.7 L2450.9 1715.7 L2453.6 1717.0 L2456.2 1717.7 L2458.9 1717.7 L2461.6 1717.3 L2464.3 1717.6 L2466.9 1718.1 L2469.6 1717.9 L2472.3 1717.7 L2475.0 1716.5 L2477.6 1715.8 L2480.3 1715.1 L2483.0 1715.0 L2485.7 1714.8 L2488.3 1714.7 L2491.0 1715.8 L2493.7 1717.0 L2496.4 1717.4 L2499.0 1717.6 L2501.7 1718.1 L2504.4 1719.2 L2507.0 1719.8 L2509.7 1720.4 L2512.4 1720.0 L2515.1 1720.0 L2517.7 1721.7 L2520.4 1722.3 L2523.1 1722.6 L2525.8 1722.8 L2528.4 1723.2 L2531.1 1723.2 L2533.8 1723.7 L2536.5 1724.6 L2539.1 1724.8 L2541.8 1724.8 L2544.5 1725.2 L2547.2 1724.8 L2549.8 1724.7 L2552.5 1725.6 L2555.2 1725.8 L2557.8 1725.1 L2560.5 1725.5 L2563.2 1726.1 L2565.9 1726.1 L2568.5 1725.9 L2571.2 1726.5 L2573.9 1726.4 L2576.6 1726.5 L2579.2 1727.3 L2581.9 1727.7 L2584.6 1726.7 L2587.3 1726.2 L2589.9 1726.3 L2592.6 1725.6 L2595.3 1724.8 L2598.0 1724.3 L2600.6 1723.8 L2603.3 1723.9 L2606.0 1723.0 L2608.7 1723.5 L2611.3 1724.0 L2614.0 1724.1 L2616.7 1724.9 L2619.3 1725.5 L2622.0 1726.2 L2624.7 1726.1 L2627.4 1725.8 L2630.0 1726.5 L2632.7 1726.8 L2635.4 1726.5 L2638.1 1726.9 L2640.7 1727.4 L2643.4 1728.1 L2646.1 1728.7 L2648.8 1729.5 L2651.4 1730.4 L2654.1 1730.7 L2656.8 1731.4 L2659.5 1732.2 L2662.1 1732.7 L2664.8 1733.2 L2667.5 1733.3 L2670.1 1733.3 L2672.8 1733.6 L2675.5 1733.4 L2678.2 1733.5 L2680.8 1733.7 L2683.5 1734.7 L2686.2 1734.1 L2688.9 1733.8 L2691.5 1734.0 L2694.2 1734.5 L2696.9 1735.0 L2699.6 1734.9 L2702.2 1734.6 L2704.9 1733.5 L2707.6 1733.6 L2710.3 1733.6 L2712.9 1732.8 L2715.6 1732.6 L2718.3 1731.6 L2721.0 1731.2 L2723.6 1731.0 L2726.3 1730.4 L2729.0 1729.8 L2731.6 1729.4 L2734.3 1728.9 L2737.0 1728.3 L2739.7 1727.8 L2742.3 1727.3 L2745.0 1728.0 L2747.7 1728.2 L2750.4 1728.1 L2753.0 1728.3 L2755.7 1729.0 L2758.4 1729.4 L2761.1 1730.0 L2763.7 1730.6 L2766.4 1731.3 L2769.1 1731.6 L2771.8 1731.4 L2774.4 1731.1 L2777.1 1731.4 L2779.8 1731.4 L2782.4 1731.2 L2785.1 1731.8 L2787.8 1732.6 L2790.5 1733.6 L2793.1 1734.0 L2795.8 1733.1 L2798.5 1733.5 L2801.2 1734.1 L2803.8 1734.3 L2806.5 1733.8 L2809.2 1733.8 L2811.9 1733.1 L2814.5 1733.5 L2817.2 1733.9 L2819.9 1733.4 L2822.6 1734.1 L2825.2 1734.1 L2827.9 1733.8 L2830.6 1733.7 L2833.3 1733.9 L2835.9 1734.2 L2838.6 1733.5 L2841.3 1733.6 L2843.9 1733.6 L2846.6 1733.8 L2849.3 1733.9 L2852.0 1734.3 L2854.6 1735.3 L2857.3 1734.7 L2860.0 1734.8 L2862.7 1735.2 L2865.3 1735.6 L2868.0 1735.6 L2870.7 1735.9 L2873.4 1737.0 L2876.0 1736.9 L2878.7 1737.0 L2881.4 1737.5 L2884.1 1737.5 L2886.7 1737.9 L2889.4 1738.8 L2892.1 1739.2 L2894.7 1739.9 L2897.4 1740.0 L2900.1 1739.3 L2902.8 1740.2 L2905.4 1739.9 L2908.1 1739.8 L2910.8 1740.3 L2913.5 1740.4 L2916.1 1740.5 L2918.8 1740.7 L2921.5 1740.2 L2924.2 1739.9 L2926.8 1739.4 L2929.5 1738.7 L2932.2 1739.5 L2934.9 1739.9 L2937.5 1739.4 L2940.2 1738.9 L2942.9 1738.5 L2945.6 1737.5 L2948.2 1738.4 L2950.9 1738.9 L2953.6 1738.6 L2956.2 1738.5 L2958.9 1738.7 L2961.6 1739.2 L2964.3 1740.2 L2966.9 1739.7 L2969.6 1739.6 L2972.3 1740.4 L2975.0 1741.0 L2977.6 1740.7 L2980.3 1741.6 L2983.0 1742.3 L2985.7 1743.1 L2988.3 1743.1 L2991.0 1743.2 L2993.7 1744.0 L2996.4 1745.1 L2999.0 1745.5 L3001.7 1744.9 L3004.4 1744.1 L3007.0 1744.7 L3009.7 1745.2 L3012.4 1744.9 L3015.1 1744.3 L3017.7 1744.8 L3020.4 1744.9 L3023.1 1744.7 L3025.8 1744.9 L3028.4 1744.5 L3031.1 1743.8 L3033.8 1743.6 L3036.5 1743.7 L3039.1 1743.5 L3041.8 1743.2 L3044.5 1743.3 L3047.2 1742.9 L3049.8 1742.7 L3052.5 1742.2 L3055.2 1741.5 L3057.9 1741.7 L3060.5 1741.5 L3063.2 1741.2 L3065.9 1741.5 L3068.5 1742.1 L3071.2 1743.1 L3073.9 1743.6 L3076.6 1743.2 L3079.2 1743.9 L3081.9 1745.0 L3084.6 1745.3 L3087.3 1745.5 L3089.9 1745.1 L3092.6 1745.0 L3095.3 1744.0 L3098.0 1743.9 L3100.6 1744.4 L3103.3 1744.3 L3106.0 1744.1 L3108.7 1743.8 L3111.3 1744.3 L3114.0 1744.5"/>
</g>
<rect x="440.2" y="248.2" width="2673.8" height="1594" fill="none" stroke="#000" stroke-width="6.13" stroke-linejoin="miter"/>
<g stroke="#000" stroke-width="6.13"><line x1="440.2" y1="1842.2" x2="440.2" y2="1869"/><line x1="1777.1" y1="1842.2" x2="1777.1" y2="1869"/><line x1="3114" y1="1842.2" x2="3114" y2="1869"/><line x1="413.4" y1="248.2" x2="440.2" y2="248.2"/><line x1="413.4" y1="1045.2" x2="440.2" y2="1045.2"/><line x1="413.4" y1="1842.2" x2="440.2" y2="1842.2"/></g>
<text x="440.2" y="1954.3" text-anchor="middle">−500</text>
<text x="1777.1" y="1954.3" text-anchor="middle">0</text>
<text x="3114" y="1954.3" text-anchor="middle">500</text>
<text x="387" y="277.2" text-anchor="end">0.2</text>
<text x="387" y="1074.2" text-anchor="end">0.1</text>
<text x="387" y="1871.2" text-anchor="end">0.0</text>
<text class="b" x="1777" y="2059" text-anchor="middle">Distance from reference (bp)</text>
<text class="b" transform="translate(217.6 1045.5) rotate(-90)" text-anchor="middle">Average occupancy</text>
<path d="M2196.5 286.5 L3060.7 286.5 Q3076 286.5 3076 301.8 L3076 743.9 Q3076 759.2 3060.7 759.2 L2196.5 759.2 Q2181.2 759.2 2181.2 743.9 L2181.2 301.8 Q2181.2 286.5 2196.5 286.5 Z" fill="#fff" fill-opacity="0.8" stroke="#cccccc" stroke-opacity="0.8" stroke-width="7.67"/>
<line x1="2211.6" y1="348.9" x2="2365.3" y2="348.9" stroke="#0000ff" stroke-width="11.5" stroke-linecap="square"/>
<text x="2426" y="376.2" letter-spacing="0.08">ZNF829 forward</text>
<line x1="2211.6" y1="461.2" x2="2365.3" y2="461.2" stroke="#ff0000" stroke-width="11.5" stroke-linecap="square"/>
<text x="2426" y="488.5" letter-spacing="0.08">ZNF829 reverse</text>
<line x1="2211.6" y1="573.6" x2="2365.3" y2="573.6" stroke="#000000" stroke-width="11.5" stroke-linecap="square"/>
<text x="2426" y="601.3" letter-spacing="0.08">IgG forward</text>
<line x1="2211.6" y1="685.9" x2="2365.3" y2="685.9" stroke="#808080" stroke-width="11.5" stroke-linecap="square"/>
<text x="2426" y="713.6" letter-spacing="0.08">IgG reverse</text>
</svg>
</body></html>
